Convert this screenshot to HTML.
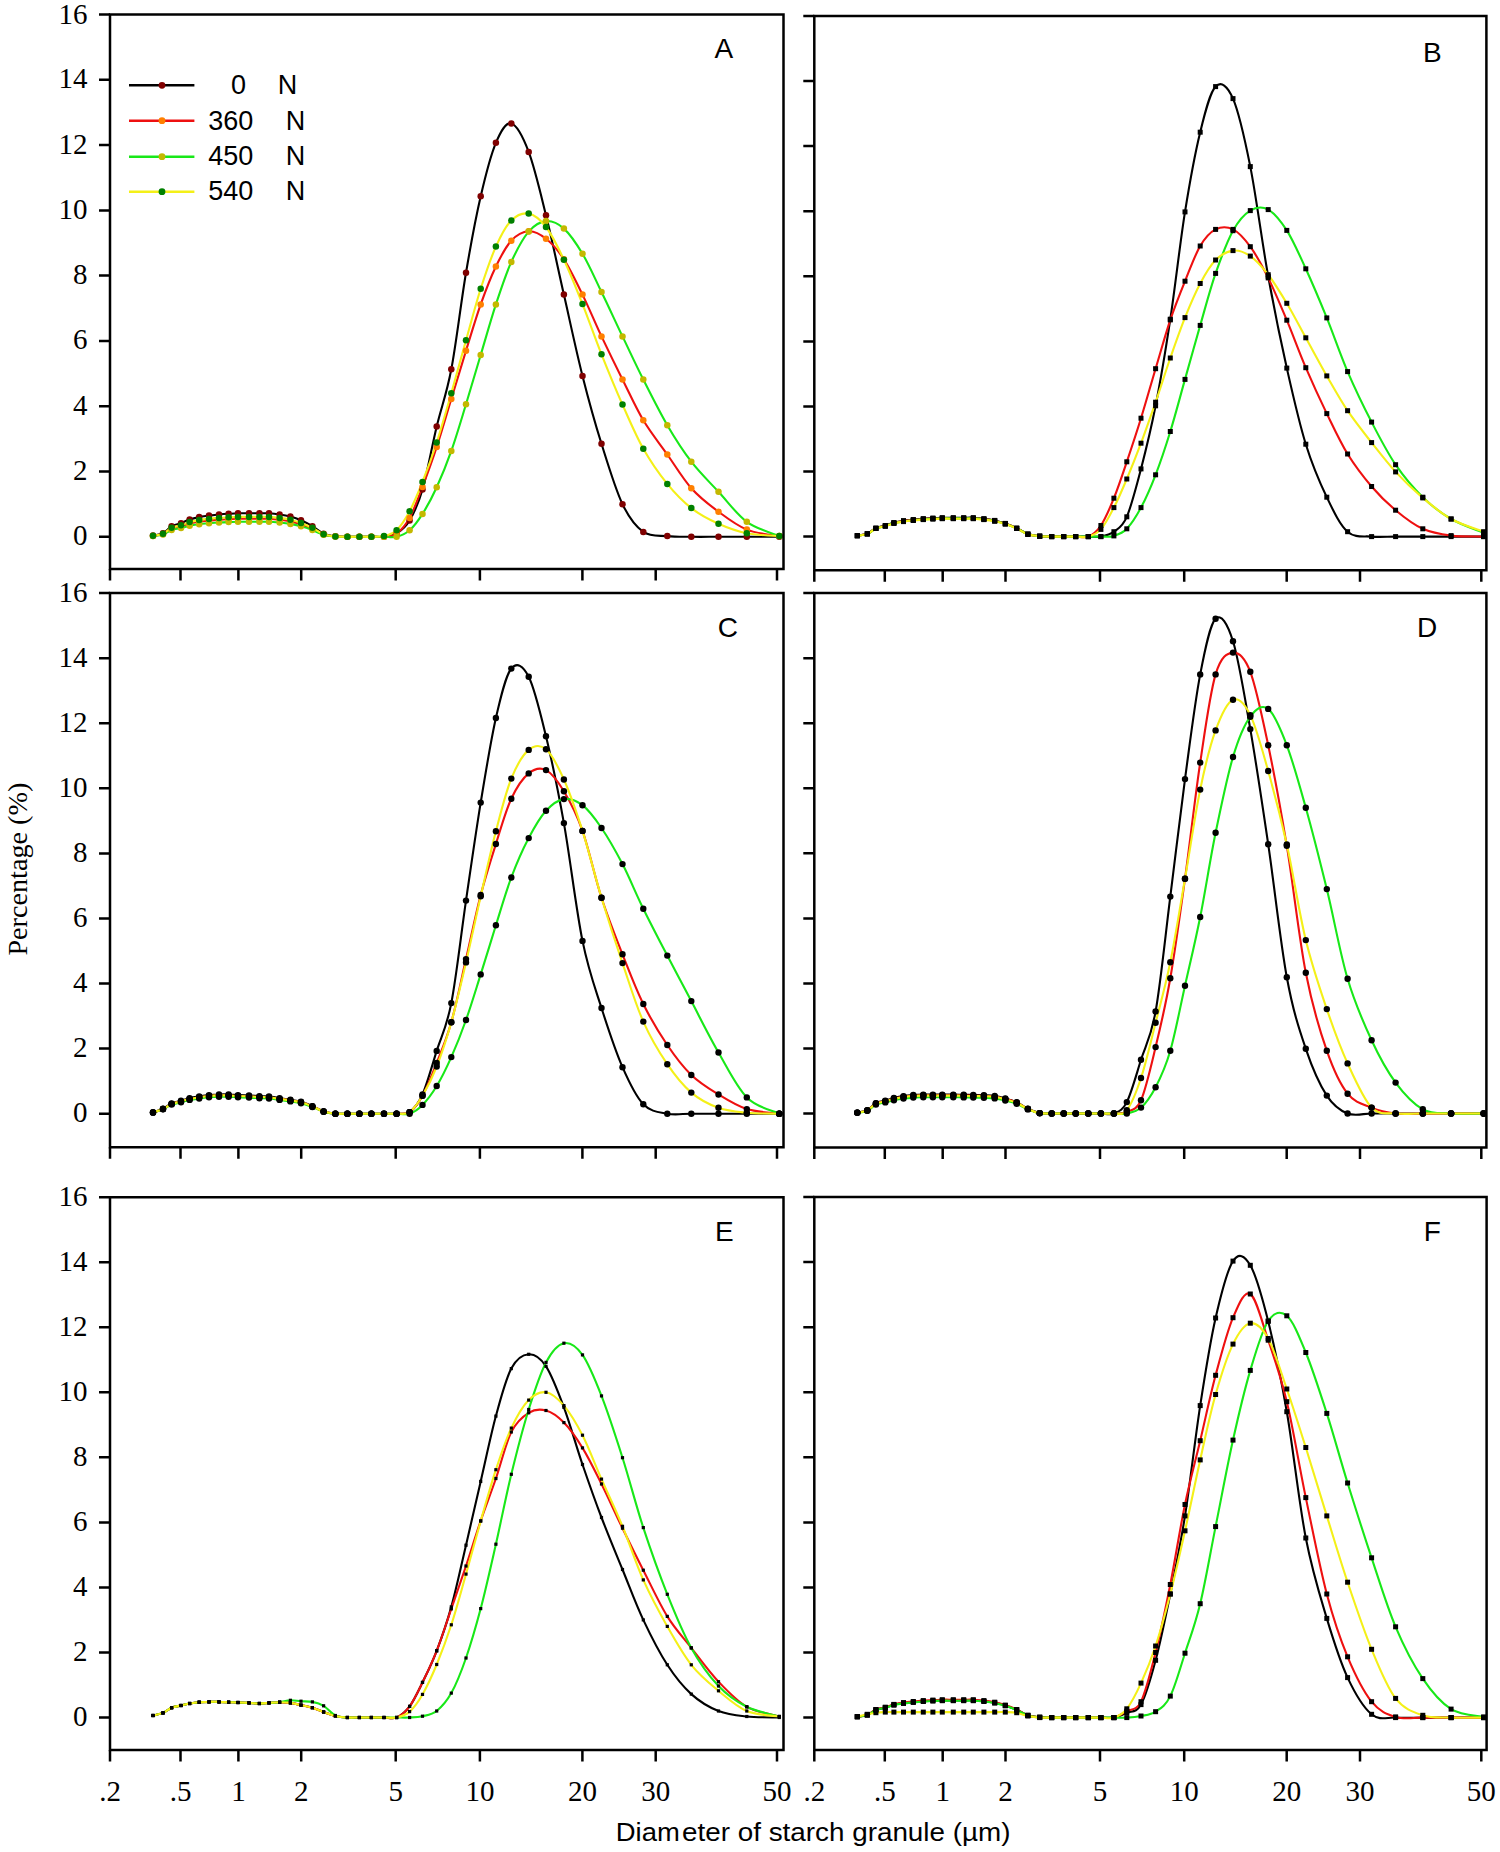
<!DOCTYPE html><html><head><meta charset="utf-8"><style>html,body{margin:0;padding:0;background:#fff;}svg{display:block}</style></head><body>
<svg width="1500" height="1852" viewBox="0 0 1500 1852">
<rect width="1500" height="1852" fill="#fff"/>
<path d="M153 535.6C154.7 535.2 159.9 534.8 163 533.3C166.1 531.7 168.6 527.9 171.6 526.2C174.6 524.5 178 524.3 181 523.2C184 522 186.6 520.4 189.6 519.4C192.6 518.4 196 517.7 199.2 517.1C202.4 516.4 205.7 516.1 209 515.6C212.3 515.2 215.7 514.8 219 514.5C222.3 514.2 225.4 514 228.6 513.8C231.8 513.6 234.6 513.4 238 513.3C241.4 513.2 245.4 513.3 249 513.3C252.6 513.3 256.1 513.3 259.4 513.3C262.7 513.3 265.6 513.1 269 513.3C272.4 513.5 276 513.9 279.6 514.5C283.2 515 286.8 515.6 290.4 516.6C294 517.6 297.3 518.7 301 520.3C304.7 522 308.6 524 312.4 526.2C316.2 528.5 319.8 532.1 323.6 533.7C327.4 535.4 331.4 535.8 335.4 536.3C339.4 536.8 343.4 536.7 347.4 536.8C351.4 536.9 355.4 536.8 359.4 536.8C363.4 536.8 367.3 536.8 371.4 536.8C375.5 536.8 379.8 537.3 384 536.8C388.2 536.3 392.3 536.3 396.6 533.5C400.9 530.8 405.3 527.8 409.6 520.5C413.9 513.1 418 505.1 422.5 489.5C427 473.8 431.9 446.5 436.7 426.5C441.5 406.4 446.4 395 451.3 369.3C456.2 343.7 461.1 301.5 466 272.7C470.9 243.9 475.7 218 480.7 196.3C485.7 174.7 490.8 154.9 495.9 142.8C501 130.7 505.8 122 511.3 123.5C516.8 125.1 522.9 136.6 528.7 151.9C534.5 167.2 540.1 191.5 546 215.3C551.9 239 557.8 267.8 563.9 294.6C570 321.4 576.2 351 582.5 375.9C588.8 400.7 594.8 422.4 601.5 443.8C608.2 465.1 615.5 489.5 622.5 504.2C629.5 518.8 635.8 526.6 643.3 531.9C650.8 537.2 659.3 535.3 667.3 536.1C675.3 537 682.8 536.7 691.3 536.8C699.8 536.9 709.2 536.8 718.5 536.8C727.8 536.8 736.7 536.8 746.8 536.8C756.9 536.8 773.9 536.8 779.3 536.8" fill="none" stroke="#000000" stroke-width="2.1" stroke-linejoin="round"/>
<path d="M153 535.9C154.7 535.6 159.9 535.3 163 534.1C166.1 532.9 168.6 530 171.6 528.7C174.6 527.4 178 527.3 181 526.4C184 525.5 186.6 524.3 189.6 523.5C192.6 522.7 196 522.2 199.2 521.7C202.4 521.2 205.7 521 209 520.6C212.3 520.3 215.7 520 219 519.7C222.3 519.5 225.4 519.4 228.6 519.2C231.8 519.1 234.6 518.9 238 518.8C241.4 518.8 245.4 518.8 249 518.8C252.6 518.8 256.1 518.8 259.4 518.8C262.7 518.8 265.6 518.7 269 518.8C272.4 519 276 519.3 279.6 519.7C283.2 520.2 286.8 520.6 290.4 521.4C294 522.1 297.3 523 301 524.2C304.7 525.5 308.6 527 312.4 528.7C316.2 530.4 319.8 533.2 323.6 534.5C327.4 535.8 331.4 536.1 335.4 536.4C339.4 536.8 343.4 536.7 347.4 536.8C351.4 536.9 355.4 536.8 359.4 536.8C363.4 536.8 367.3 536.8 371.4 536.8C375.5 536.8 379.8 537.3 384 536.8C388.2 536.3 392.3 536.7 396.6 533.5C400.9 530.4 405.3 525.6 409.6 517.9C413.9 510.1 418 498.7 422.5 486.9C427 475 431.9 461.7 436.7 447C441.5 432.4 446.4 415.1 451.3 399C456.2 383 461.1 366.5 466 350.7C470.9 335 475.7 318.4 480.7 304.4C485.7 290.3 490.8 277.1 495.9 266.5C501 255.9 505.8 246.6 511.3 240.7C516.8 234.8 522.9 231.6 528.7 231.3C534.5 230.9 540.1 234.1 546 238.8C551.9 243.4 557.8 250 563.9 259.3C570 268.6 576.2 281.7 582.5 294.6C588.8 307.4 594.8 322.2 601.5 336.4C608.2 350.5 615.5 365.5 622.5 379.5C629.5 393.4 635.8 407.7 643.3 420.3C650.8 432.8 659.3 443.2 667.3 454.5C675.3 465.9 682.8 478.6 691.3 488.2C699.8 497.7 709.2 504.8 718.5 511.7C727.8 518.6 736.7 525.5 746.8 529.6C756.9 533.7 773.9 535.1 779.3 536.1" fill="none" stroke="#ee1010" stroke-width="2.1" stroke-linejoin="round"/>
<path d="M153 536C154.7 535.8 159.9 535.5 163 534.5C166.1 533.5 168.6 531.1 171.6 530C174.6 529 178 528.8 181 528.1C184 527.4 186.6 526.3 189.6 525.7C192.6 525 196 524.6 199.2 524.2C202.4 523.8 205.7 523.6 209 523.3C212.3 523 215.7 522.7 219 522.5C222.3 522.3 225.4 522.2 228.6 522.1C231.8 522 234.6 521.8 238 521.8C241.4 521.7 245.4 521.8 249 521.8C252.6 521.8 256.1 521.8 259.4 521.8C262.7 521.8 265.6 521.7 269 521.8C272.4 521.9 276 522.2 279.6 522.5C283.2 522.9 286.8 523.3 290.4 523.9C294 524.5 297.3 525.3 301 526.3C304.7 527.3 308.6 528.6 312.4 530C316.2 531.5 319.8 533.8 323.6 534.8C327.4 535.9 331.4 536.2 335.4 536.5C339.4 536.8 343.4 536.7 347.4 536.8C351.4 536.9 355.4 536.8 359.4 536.8C363.4 536.8 367.3 536.8 371.4 536.8C375.5 536.8 379.8 536.8 384 536.8C388.2 536.8 392.3 537.9 396.6 536.8C400.9 535.7 405.3 534.1 409.6 530.3C413.9 526.5 418 521.1 422.5 513.9C427 506.8 431.9 497.7 436.7 487.2C441.5 476.7 446.4 464.8 451.3 450.9C456.2 437.1 461.1 420.3 466 404.3C470.9 388.3 475.7 371.6 480.7 355C485.7 338.3 490.8 319.9 495.9 304.4C501 288.9 505.8 274.1 511.3 261.9C516.8 249.8 522.9 238.4 528.7 231.6C534.5 224.8 540.1 221.6 546 221.1C551.9 220.6 557.8 223.2 563.9 228.6C570 234.1 576.2 243.2 582.5 253.8C588.8 264.3 594.8 278.2 601.5 292C608.2 305.7 615.5 321.8 622.5 336.4C629.5 350.9 635.8 364.7 643.3 379.5C650.8 394.3 659.3 411.4 667.3 425.2C675.3 438.9 682.8 450.6 691.3 461.7C699.8 472.8 709.2 481.7 718.5 491.8C727.8 501.8 736.7 514.4 746.8 521.8C756.9 529.2 773.9 533.8 779.3 536.1" fill="none" stroke="#18e818" stroke-width="2.1" stroke-linejoin="round"/>
<path d="M153 535.8C154.7 535.5 159.9 535.1 163 533.8C166.1 532.5 168.6 529.3 171.6 527.8C174.6 526.4 178 526.2 181 525.3C184 524.3 186.6 522.9 189.6 522.1C192.6 521.2 196 520.6 199.2 520.1C202.4 519.5 205.7 519.2 209 518.9C212.3 518.5 215.7 518.1 219 517.9C222.3 517.6 225.4 517.5 228.6 517.3C231.8 517.1 234.6 517 238 516.9C241.4 516.8 245.4 516.9 249 516.9C252.6 516.9 256.1 516.9 259.4 516.9C262.7 516.9 265.6 516.7 269 516.9C272.4 517.1 276 517.4 279.6 517.9C283.2 518.3 286.8 518.8 290.4 519.7C294 520.5 297.3 521.5 301 522.9C304.7 524.2 308.6 525.9 312.4 527.8C316.2 529.7 319.8 532.8 323.6 534.2C327.4 535.6 331.4 536 335.4 536.4C339.4 536.8 343.4 536.7 347.4 536.8C351.4 536.9 355.4 536.8 359.4 536.8C363.4 536.8 367.3 536.9 371.4 536.8C375.5 536.7 379.8 537.2 384 536.1C388.2 535.1 392.3 534.4 396.6 530.3C400.9 526.1 405.3 519.4 409.6 511.3C413.9 503.3 418 493.4 422.5 482C427 470.5 431.9 457.3 436.7 442.5C441.5 427.7 446.4 410.2 451.3 393.2C456.2 376.1 461.1 357.7 466 340.3C470.9 322.9 475.7 304.3 480.7 288.7C485.7 273.1 490.8 258 495.9 246.6C501 235.2 505.8 226 511.3 220.5C516.8 215 522.9 212.5 528.7 213.6C534.5 214.7 540.1 219.3 546 227C551.9 234.7 557.8 246.8 563.9 259.7C570 272.5 576.2 288.3 582.5 304.1C588.8 319.8 594.8 337.6 601.5 354.3C608.2 371.1 615.5 388.9 622.5 404.6C629.5 420.3 635.8 435.4 643.3 448.7C650.8 461.9 659.3 474 667.3 483.9C675.3 493.8 682.8 501.4 691.3 508.1C699.8 514.7 709.2 519.6 718.5 523.7C727.8 527.9 736.7 531.1 746.8 533.2C756.9 535.3 773.9 535.7 779.3 536.1" fill="none" stroke="#f4f018" stroke-width="2.1" stroke-linejoin="round"/>
<circle cx="153" cy="535.6" r="3.25" fill="#800000"/>
<circle cx="163" cy="533.3" r="3.25" fill="#800000"/>
<circle cx="171.6" cy="526.2" r="3.25" fill="#800000"/>
<circle cx="181" cy="523.2" r="3.25" fill="#800000"/>
<circle cx="189.6" cy="519.4" r="3.25" fill="#800000"/>
<circle cx="199.2" cy="517.1" r="3.25" fill="#800000"/>
<circle cx="209" cy="515.6" r="3.25" fill="#800000"/>
<circle cx="219" cy="514.5" r="3.25" fill="#800000"/>
<circle cx="228.6" cy="513.8" r="3.25" fill="#800000"/>
<circle cx="238" cy="513.3" r="3.25" fill="#800000"/>
<circle cx="249" cy="513.3" r="3.25" fill="#800000"/>
<circle cx="259.4" cy="513.3" r="3.25" fill="#800000"/>
<circle cx="269" cy="513.3" r="3.25" fill="#800000"/>
<circle cx="279.6" cy="514.5" r="3.25" fill="#800000"/>
<circle cx="290.4" cy="516.6" r="3.25" fill="#800000"/>
<circle cx="301" cy="520.3" r="3.25" fill="#800000"/>
<circle cx="312.4" cy="526.2" r="3.25" fill="#800000"/>
<circle cx="323.6" cy="533.7" r="3.25" fill="#800000"/>
<circle cx="335.4" cy="536.3" r="3.25" fill="#800000"/>
<circle cx="347.4" cy="536.8" r="3.25" fill="#800000"/>
<circle cx="359.4" cy="536.8" r="3.25" fill="#800000"/>
<circle cx="371.4" cy="536.8" r="3.25" fill="#800000"/>
<circle cx="384" cy="536.8" r="3.25" fill="#800000"/>
<circle cx="396.6" cy="533.5" r="3.25" fill="#800000"/>
<circle cx="409.6" cy="520.5" r="3.25" fill="#800000"/>
<circle cx="422.5" cy="489.5" r="3.25" fill="#800000"/>
<circle cx="436.7" cy="426.5" r="3.25" fill="#800000"/>
<circle cx="451.3" cy="369.3" r="3.25" fill="#800000"/>
<circle cx="466" cy="272.7" r="3.25" fill="#800000"/>
<circle cx="480.7" cy="196.3" r="3.25" fill="#800000"/>
<circle cx="495.9" cy="142.8" r="3.25" fill="#800000"/>
<circle cx="511.3" cy="123.5" r="3.25" fill="#800000"/>
<circle cx="528.7" cy="151.9" r="3.25" fill="#800000"/>
<circle cx="546" cy="215.3" r="3.25" fill="#800000"/>
<circle cx="563.9" cy="294.6" r="3.25" fill="#800000"/>
<circle cx="582.5" cy="375.9" r="3.25" fill="#800000"/>
<circle cx="601.5" cy="443.8" r="3.25" fill="#800000"/>
<circle cx="622.5" cy="504.2" r="3.25" fill="#800000"/>
<circle cx="643.3" cy="531.9" r="3.25" fill="#800000"/>
<circle cx="667.3" cy="536.1" r="3.25" fill="#800000"/>
<circle cx="691.3" cy="536.8" r="3.25" fill="#800000"/>
<circle cx="718.5" cy="536.8" r="3.25" fill="#800000"/>
<circle cx="746.8" cy="536.8" r="3.25" fill="#800000"/>
<circle cx="779.3" cy="536.8" r="3.25" fill="#800000"/>
<circle cx="153" cy="535.9" r="3.25" fill="#ff8000"/>
<circle cx="163" cy="534.1" r="3.25" fill="#ff8000"/>
<circle cx="171.6" cy="528.7" r="3.25" fill="#ff8000"/>
<circle cx="181" cy="526.4" r="3.25" fill="#ff8000"/>
<circle cx="189.6" cy="523.5" r="3.25" fill="#ff8000"/>
<circle cx="199.2" cy="521.7" r="3.25" fill="#ff8000"/>
<circle cx="209" cy="520.6" r="3.25" fill="#ff8000"/>
<circle cx="219" cy="519.7" r="3.25" fill="#ff8000"/>
<circle cx="228.6" cy="519.2" r="3.25" fill="#ff8000"/>
<circle cx="238" cy="518.8" r="3.25" fill="#ff8000"/>
<circle cx="249" cy="518.8" r="3.25" fill="#ff8000"/>
<circle cx="259.4" cy="518.8" r="3.25" fill="#ff8000"/>
<circle cx="269" cy="518.8" r="3.25" fill="#ff8000"/>
<circle cx="279.6" cy="519.7" r="3.25" fill="#ff8000"/>
<circle cx="290.4" cy="521.4" r="3.25" fill="#ff8000"/>
<circle cx="301" cy="524.2" r="3.25" fill="#ff8000"/>
<circle cx="312.4" cy="528.7" r="3.25" fill="#ff8000"/>
<circle cx="323.6" cy="534.5" r="3.25" fill="#ff8000"/>
<circle cx="335.4" cy="536.4" r="3.25" fill="#ff8000"/>
<circle cx="347.4" cy="536.8" r="3.25" fill="#ff8000"/>
<circle cx="359.4" cy="536.8" r="3.25" fill="#ff8000"/>
<circle cx="371.4" cy="536.8" r="3.25" fill="#ff8000"/>
<circle cx="384" cy="536.8" r="3.25" fill="#ff8000"/>
<circle cx="396.6" cy="533.5" r="3.25" fill="#ff8000"/>
<circle cx="409.6" cy="517.9" r="3.25" fill="#ff8000"/>
<circle cx="422.5" cy="486.9" r="3.25" fill="#ff8000"/>
<circle cx="436.7" cy="447" r="3.25" fill="#ff8000"/>
<circle cx="451.3" cy="399" r="3.25" fill="#ff8000"/>
<circle cx="466" cy="350.7" r="3.25" fill="#ff8000"/>
<circle cx="480.7" cy="304.4" r="3.25" fill="#ff8000"/>
<circle cx="495.9" cy="266.5" r="3.25" fill="#ff8000"/>
<circle cx="511.3" cy="240.7" r="3.25" fill="#ff8000"/>
<circle cx="528.7" cy="231.3" r="3.25" fill="#ff8000"/>
<circle cx="546" cy="238.8" r="3.25" fill="#ff8000"/>
<circle cx="563.9" cy="259.3" r="3.25" fill="#ff8000"/>
<circle cx="582.5" cy="294.6" r="3.25" fill="#ff8000"/>
<circle cx="601.5" cy="336.4" r="3.25" fill="#ff8000"/>
<circle cx="622.5" cy="379.5" r="3.25" fill="#ff8000"/>
<circle cx="643.3" cy="420.3" r="3.25" fill="#ff8000"/>
<circle cx="667.3" cy="454.5" r="3.25" fill="#ff8000"/>
<circle cx="691.3" cy="488.2" r="3.25" fill="#ff8000"/>
<circle cx="718.5" cy="511.7" r="3.25" fill="#ff8000"/>
<circle cx="746.8" cy="529.6" r="3.25" fill="#ff8000"/>
<circle cx="779.3" cy="536.1" r="3.25" fill="#ff8000"/>
<circle cx="153" cy="536" r="3.25" fill="#c4b800"/>
<circle cx="163" cy="534.5" r="3.25" fill="#c4b800"/>
<circle cx="171.6" cy="530" r="3.25" fill="#c4b800"/>
<circle cx="181" cy="528.1" r="3.25" fill="#c4b800"/>
<circle cx="189.6" cy="525.7" r="3.25" fill="#c4b800"/>
<circle cx="199.2" cy="524.2" r="3.25" fill="#c4b800"/>
<circle cx="209" cy="523.3" r="3.25" fill="#c4b800"/>
<circle cx="219" cy="522.5" r="3.25" fill="#c4b800"/>
<circle cx="228.6" cy="522.1" r="3.25" fill="#c4b800"/>
<circle cx="238" cy="521.8" r="3.25" fill="#c4b800"/>
<circle cx="249" cy="521.8" r="3.25" fill="#c4b800"/>
<circle cx="259.4" cy="521.8" r="3.25" fill="#c4b800"/>
<circle cx="269" cy="521.8" r="3.25" fill="#c4b800"/>
<circle cx="279.6" cy="522.5" r="3.25" fill="#c4b800"/>
<circle cx="290.4" cy="523.9" r="3.25" fill="#c4b800"/>
<circle cx="301" cy="526.3" r="3.25" fill="#c4b800"/>
<circle cx="312.4" cy="530" r="3.25" fill="#c4b800"/>
<circle cx="323.6" cy="534.8" r="3.25" fill="#c4b800"/>
<circle cx="335.4" cy="536.5" r="3.25" fill="#c4b800"/>
<circle cx="347.4" cy="536.8" r="3.25" fill="#c4b800"/>
<circle cx="359.4" cy="536.8" r="3.25" fill="#c4b800"/>
<circle cx="371.4" cy="536.8" r="3.25" fill="#c4b800"/>
<circle cx="384" cy="536.8" r="3.25" fill="#c4b800"/>
<circle cx="396.6" cy="536.8" r="3.25" fill="#c4b800"/>
<circle cx="409.6" cy="530.3" r="3.25" fill="#c4b800"/>
<circle cx="422.5" cy="513.9" r="3.25" fill="#c4b800"/>
<circle cx="436.7" cy="487.2" r="3.25" fill="#c4b800"/>
<circle cx="451.3" cy="450.9" r="3.25" fill="#c4b800"/>
<circle cx="466" cy="404.3" r="3.25" fill="#c4b800"/>
<circle cx="480.7" cy="355" r="3.25" fill="#c4b800"/>
<circle cx="495.9" cy="304.4" r="3.25" fill="#c4b800"/>
<circle cx="511.3" cy="261.9" r="3.25" fill="#c4b800"/>
<circle cx="528.7" cy="231.6" r="3.25" fill="#c4b800"/>
<circle cx="546" cy="221.1" r="3.25" fill="#c4b800"/>
<circle cx="563.9" cy="228.6" r="3.25" fill="#c4b800"/>
<circle cx="582.5" cy="253.8" r="3.25" fill="#c4b800"/>
<circle cx="601.5" cy="292" r="3.25" fill="#c4b800"/>
<circle cx="622.5" cy="336.4" r="3.25" fill="#c4b800"/>
<circle cx="643.3" cy="379.5" r="3.25" fill="#c4b800"/>
<circle cx="667.3" cy="425.2" r="3.25" fill="#c4b800"/>
<circle cx="691.3" cy="461.7" r="3.25" fill="#c4b800"/>
<circle cx="718.5" cy="491.8" r="3.25" fill="#c4b800"/>
<circle cx="746.8" cy="521.8" r="3.25" fill="#c4b800"/>
<circle cx="779.3" cy="536.1" r="3.25" fill="#c4b800"/>
<circle cx="153" cy="535.8" r="3.25" fill="#008000"/>
<circle cx="163" cy="533.8" r="3.25" fill="#008000"/>
<circle cx="171.6" cy="527.8" r="3.25" fill="#008000"/>
<circle cx="181" cy="525.3" r="3.25" fill="#008000"/>
<circle cx="189.6" cy="522.1" r="3.25" fill="#008000"/>
<circle cx="199.2" cy="520.1" r="3.25" fill="#008000"/>
<circle cx="209" cy="518.9" r="3.25" fill="#008000"/>
<circle cx="219" cy="517.9" r="3.25" fill="#008000"/>
<circle cx="228.6" cy="517.3" r="3.25" fill="#008000"/>
<circle cx="238" cy="516.9" r="3.25" fill="#008000"/>
<circle cx="249" cy="516.9" r="3.25" fill="#008000"/>
<circle cx="259.4" cy="516.9" r="3.25" fill="#008000"/>
<circle cx="269" cy="516.9" r="3.25" fill="#008000"/>
<circle cx="279.6" cy="517.9" r="3.25" fill="#008000"/>
<circle cx="290.4" cy="519.7" r="3.25" fill="#008000"/>
<circle cx="301" cy="522.9" r="3.25" fill="#008000"/>
<circle cx="312.4" cy="527.8" r="3.25" fill="#008000"/>
<circle cx="323.6" cy="534.2" r="3.25" fill="#008000"/>
<circle cx="335.4" cy="536.4" r="3.25" fill="#008000"/>
<circle cx="347.4" cy="536.8" r="3.25" fill="#008000"/>
<circle cx="359.4" cy="536.8" r="3.25" fill="#008000"/>
<circle cx="371.4" cy="536.8" r="3.25" fill="#008000"/>
<circle cx="384" cy="536.1" r="3.25" fill="#008000"/>
<circle cx="396.6" cy="530.3" r="3.25" fill="#008000"/>
<circle cx="409.6" cy="511.3" r="3.25" fill="#008000"/>
<circle cx="422.5" cy="482" r="3.25" fill="#008000"/>
<circle cx="436.7" cy="442.5" r="3.25" fill="#008000"/>
<circle cx="451.3" cy="393.2" r="3.25" fill="#008000"/>
<circle cx="466" cy="340.3" r="3.25" fill="#008000"/>
<circle cx="480.7" cy="288.7" r="3.25" fill="#008000"/>
<circle cx="495.9" cy="246.6" r="3.25" fill="#008000"/>
<circle cx="511.3" cy="220.5" r="3.25" fill="#008000"/>
<circle cx="528.7" cy="213.6" r="3.25" fill="#008000"/>
<circle cx="546" cy="227" r="3.25" fill="#008000"/>
<circle cx="563.9" cy="259.7" r="3.25" fill="#008000"/>
<circle cx="582.5" cy="304.1" r="3.25" fill="#008000"/>
<circle cx="601.5" cy="354.3" r="3.25" fill="#008000"/>
<circle cx="622.5" cy="404.6" r="3.25" fill="#008000"/>
<circle cx="643.3" cy="448.7" r="3.25" fill="#008000"/>
<circle cx="667.3" cy="483.9" r="3.25" fill="#008000"/>
<circle cx="691.3" cy="508.1" r="3.25" fill="#008000"/>
<circle cx="718.5" cy="523.7" r="3.25" fill="#008000"/>
<circle cx="746.8" cy="533.2" r="3.25" fill="#008000"/>
<circle cx="779.3" cy="536.1" r="3.25" fill="#008000"/>
<path d="M110 14.5H783.5V569H110Z" fill="none" stroke="#000" stroke-width="2.5"/>
<path d="M99 536.8H110M99 471.5H110M99 406.2H110M99 340.9H110M99 275.6H110M99 210.4H110M99 145.1H110M99 79.8H110M99 14.5H110M110 569V580.5M180.5 569V580.5M238.4 569V580.5M301.2 569V580.5M395.7 569V580.5M479.9 569V580.5M582.4 569V580.5M655.7 569V580.5M777 569V580.5" fill="none" stroke="#000" stroke-width="2.5"/>
<text x="87.4" y="545.3" font-family="'Liberation Serif', serif" font-size="29" text-anchor="end" fill="#000">0</text>
<text x="87.4" y="480" font-family="'Liberation Serif', serif" font-size="29" text-anchor="end" fill="#000">2</text>
<text x="87.4" y="414.7" font-family="'Liberation Serif', serif" font-size="29" text-anchor="end" fill="#000">4</text>
<text x="87.4" y="349.4" font-family="'Liberation Serif', serif" font-size="29" text-anchor="end" fill="#000">6</text>
<text x="87.4" y="284.1" font-family="'Liberation Serif', serif" font-size="29" text-anchor="end" fill="#000">8</text>
<text x="87.4" y="218.9" font-family="'Liberation Serif', serif" font-size="29" text-anchor="end" fill="#000">10</text>
<text x="87.4" y="153.6" font-family="'Liberation Serif', serif" font-size="29" text-anchor="end" fill="#000">12</text>
<text x="87.4" y="88.3" font-family="'Liberation Serif', serif" font-size="29" text-anchor="end" fill="#000">14</text>
<text x="87.4" y="24.3" font-family="'Liberation Serif', serif" font-size="29" text-anchor="end" fill="#000">16</text>
<text x="714.5" y="58.4" font-family="'Liberation Sans', sans-serif" font-size="28" fill="#000">A</text>
<path d="M857.3 535.7C859 535.3 864.2 535 867.3 533.8C870.4 532.5 872.9 529.5 875.9 528.1C878.9 526.8 882.3 526.6 885.3 525.7C888.3 524.7 890.9 523.5 893.9 522.6C896.9 521.8 900.3 521.3 903.5 520.7C906.7 520.2 910 520 913.3 519.6C916.6 519.3 920 518.9 923.3 518.7C926.6 518.4 929.7 518.3 932.9 518.1C936.1 517.9 938.9 517.8 942.3 517.7C945.7 517.7 949.7 517.7 953.3 517.7C956.9 517.7 960.4 517.7 963.7 517.7C967 517.7 969.9 517.6 973.3 517.7C976.7 517.9 980.3 518.2 983.9 518.7C987.5 519.1 991.1 519.6 994.7 520.4C998.3 521.2 1001.6 522.1 1005.3 523.4C1009 524.7 1012.9 526.3 1016.7 528.1C1020.5 529.9 1024.1 532.8 1027.9 534.1C1031.7 535.5 1035.7 535.8 1039.7 536.2C1043.7 536.6 1047.7 536.5 1051.7 536.6C1055.7 536.7 1059.7 536.6 1063.7 536.6C1067.7 536.6 1071.6 536.6 1075.7 536.6C1079.8 536.6 1084.1 536.6 1088.3 536.6C1092.5 536.6 1096.6 537.4 1100.9 536.6C1105.2 535.8 1109.6 535 1113.9 531.7C1118.2 528.4 1122.3 527.2 1126.8 516.8C1131.3 506.3 1136.2 487.4 1141 468.9C1145.8 450.4 1150.7 430.7 1155.6 405.8C1160.5 380.9 1165.4 351.6 1170.3 319.2C1175.2 286.9 1180 243.1 1185 211.9C1190 180.7 1195.1 153 1200.2 132.2C1205.3 111.3 1210.1 92.2 1215.6 86.6C1221.1 81 1227.2 85.3 1233 98.6C1238.8 112 1244.4 137 1250.3 166.6C1256.2 196.3 1262.1 242.7 1268.2 276.3C1274.3 309.9 1280.5 340.1 1286.8 368.1C1293.1 396 1299.1 422.7 1305.8 444.2C1312.5 465.7 1319.8 482.6 1326.8 497.2C1333.8 511.8 1340.1 525.2 1347.6 531.7C1355.1 538.3 1363.6 535.8 1371.6 536.6C1379.6 537.4 1387.1 536.6 1395.6 536.6C1404.1 536.6 1413.5 536.6 1422.8 536.6C1432 536.6 1441 536.6 1451.1 536.6C1461.2 536.6 1478.2 536.6 1483.6 536.6" fill="none" stroke="#000000" stroke-width="2.1" stroke-linejoin="round"/>
<path d="M857.3 535.7C859 535.4 864.2 535.1 867.3 533.8C870.4 532.6 872.9 529.6 875.9 528.3C878.9 526.9 882.3 526.7 885.3 525.8C888.3 524.9 890.9 523.7 893.9 522.9C896.9 522.1 900.3 521.5 903.5 521C906.7 520.5 910 520.2 913.3 519.9C916.6 519.6 920 519.2 923.3 519C926.6 518.7 929.7 518.6 932.9 518.4C936.1 518.3 938.9 518.1 942.3 518.1C945.7 518 949.7 518.1 953.3 518.1C956.9 518.1 960.4 518.1 963.7 518.1C967 518.1 969.9 517.9 973.3 518.1C976.7 518.2 980.3 518.5 983.9 519C987.5 519.4 991.1 519.9 994.7 520.7C998.3 521.4 1001.6 522.4 1005.3 523.6C1009 524.9 1012.9 526.5 1016.7 528.3C1020.5 530 1024.1 532.9 1027.9 534.2C1031.7 535.5 1035.7 535.8 1039.7 536.2C1043.7 536.6 1047.7 536.5 1051.7 536.6C1055.7 536.7 1059.7 536.6 1063.7 536.6C1067.7 536.6 1071.6 536.6 1075.7 536.6C1079.8 536.6 1084.1 538.4 1088.3 536.6C1092.5 534.8 1096.6 531.9 1100.9 525.5C1105.2 519.1 1109.6 508.8 1113.9 498.2C1118.2 487.6 1122.3 475.1 1126.8 461.8C1131.3 448.4 1136.2 433.7 1141 418.2C1145.8 402.7 1150.7 385.1 1155.6 368.7C1160.5 352.3 1165.4 334.5 1170.3 319.9C1175.2 305.3 1180 293.5 1185 281.2C1190 268.9 1195.1 254.7 1200.2 246C1205.3 237.4 1210.1 232.2 1215.6 229.4C1221.1 226.7 1227.2 226.6 1233 229.4C1238.8 232.3 1244.4 238.6 1250.3 246.7C1256.2 254.8 1262.1 265.7 1268.2 277.9C1274.3 290.2 1280.5 305.3 1286.8 320.2C1293.1 335.2 1299.1 352.2 1305.8 367.7C1312.5 383.3 1319.8 399.2 1326.8 413.6C1333.8 428 1340.1 441.8 1347.6 454C1355.1 466.1 1363.6 477.1 1371.6 486.5C1379.6 495.9 1387.1 503.2 1395.6 510.2C1404.1 517.3 1413.5 524.6 1422.8 528.8C1432 533 1441 534.3 1451.1 535.6C1461.2 536.9 1478.2 536.4 1483.6 536.6" fill="none" stroke="#ee1010" stroke-width="2.1" stroke-linejoin="round"/>
<path d="M857.3 535.7C859 535.4 864.2 535.1 867.3 533.9C870.4 532.7 872.9 529.7 875.9 528.4C878.9 527.1 882.3 526.9 885.3 526C888.3 525.2 890.9 523.9 893.9 523.1C896.9 522.3 900.3 521.8 903.5 521.3C906.7 520.8 910 520.5 913.3 520.2C916.6 519.9 920 519.5 923.3 519.3C926.6 519 929.7 518.9 932.9 518.7C936.1 518.6 938.9 518.4 942.3 518.4C945.7 518.3 949.7 518.4 953.3 518.4C956.9 518.4 960.4 518.4 963.7 518.4C967 518.4 969.9 518.2 973.3 518.4C976.7 518.5 980.3 518.9 983.9 519.3C987.5 519.7 991.1 520.2 994.7 520.9C998.3 521.7 1001.6 522.6 1005.3 523.8C1009 525.1 1012.9 526.7 1016.7 528.4C1020.5 530.1 1024.1 532.9 1027.9 534.2C1031.7 535.5 1035.7 535.8 1039.7 536.2C1043.7 536.6 1047.7 536.5 1051.7 536.6C1055.7 536.7 1059.7 536.6 1063.7 536.6C1067.7 536.6 1071.6 536.6 1075.7 536.6C1079.8 536.6 1084.1 536.6 1088.3 536.6C1092.5 536.6 1096.6 536.7 1100.9 536.6C1105.2 536.5 1109.6 537.3 1113.9 535.9C1118.2 534.6 1122.3 533.5 1126.8 528.8C1131.3 524.1 1136.2 516.6 1141 507.6C1145.8 498.6 1150.7 487.5 1155.6 474.8C1160.5 462.1 1165.4 447.4 1170.3 431.5C1175.2 415.6 1180 397.1 1185 379.4C1190 361.8 1195.1 343.1 1200.2 325.4C1205.3 307.8 1210.1 289.2 1215.6 273.4C1221.1 257.6 1227.2 241.2 1233 230.7C1238.8 220.3 1244.4 214.1 1250.3 210.6C1256.2 207 1262.1 206.3 1268.2 209.6C1274.3 212.9 1280.5 220.6 1286.8 230.4C1293.1 240.3 1299.1 254.2 1305.8 268.8C1312.5 283.4 1319.8 300.8 1326.8 317.9C1333.8 335.1 1340.1 354.3 1347.6 371.6C1355.1 389 1363.6 406.6 1371.6 422.1C1379.6 437.6 1387.1 452.2 1395.6 464.7C1404.1 477.2 1413.5 488.2 1422.8 497.2C1432 506.3 1441 513.1 1451.1 519C1461.2 524.9 1478.2 530.4 1483.6 532.7" fill="none" stroke="#18e818" stroke-width="2.1" stroke-linejoin="round"/>
<path d="M857.3 535.7C859 535.4 864.2 535.1 867.3 533.9C870.4 532.7 872.9 529.8 875.9 528.5C878.9 527.3 882.3 527.1 885.3 526.2C888.3 525.4 890.9 524.1 893.9 523.4C896.9 522.6 900.3 522 903.5 521.6C906.7 521.1 910 520.8 913.3 520.5C916.6 520.2 920 519.8 923.3 519.6C926.6 519.4 929.7 519.2 932.9 519.1C936.1 518.9 938.9 518.8 942.3 518.7C945.7 518.6 949.7 518.7 953.3 518.7C956.9 518.7 960.4 518.7 963.7 518.7C967 518.7 969.9 518.6 973.3 518.7C976.7 518.9 980.3 519.2 983.9 519.6C987.5 520 991.1 520.5 994.7 521.2C998.3 522 1001.6 522.9 1005.3 524.1C1009 525.3 1012.9 526.8 1016.7 528.5C1020.5 530.2 1024.1 533 1027.9 534.3C1031.7 535.6 1035.7 535.9 1039.7 536.2C1043.7 536.6 1047.7 536.5 1051.7 536.6C1055.7 536.7 1059.7 536.6 1063.7 536.6C1067.7 536.6 1071.6 536.6 1075.7 536.6C1079.8 536.6 1084.1 537.8 1088.3 536.6C1092.5 535.4 1096.6 534.3 1100.9 529.4C1105.2 524.6 1109.6 516 1113.9 507.6C1118.2 499.2 1122.3 489.7 1126.8 479C1131.3 468.3 1136.2 456 1141 443.2C1145.8 430.4 1150.7 416.4 1155.6 402.2C1160.5 388 1165.4 372.1 1170.3 358C1175.2 343.9 1180 330 1185 317.6C1190 305.2 1195.1 293.1 1200.2 283.5C1205.3 273.9 1210.1 265.5 1215.6 260C1221.1 254.6 1227.2 251.2 1233 250.6C1238.8 249.9 1244.4 252.1 1250.3 256.1C1256.2 260.1 1262.1 266.8 1268.2 274.7C1274.3 282.5 1280.5 292.8 1286.8 303.3C1293.1 313.8 1299.1 325.7 1305.8 337.8C1312.5 349.9 1319.8 363.7 1326.8 375.9C1333.8 388 1340.1 399.6 1347.6 410.7C1355.1 421.8 1363.6 432.4 1371.6 442.6C1379.6 452.8 1387.1 462.6 1395.6 471.9C1404.1 481.1 1413.5 490 1422.8 497.9C1432 505.7 1441 513.4 1451.1 519C1461.2 524.7 1478.2 529.6 1483.6 531.7" fill="none" stroke="#f4f018" stroke-width="2.1" stroke-linejoin="round"/>
<rect x="854.8" y="533.2" width="5" height="5" fill="#000"/>
<rect x="864.8" y="531.3" width="5" height="5" fill="#000"/>
<rect x="873.4" y="525.6" width="5" height="5" fill="#000"/>
<rect x="882.8" y="523.2" width="5" height="5" fill="#000"/>
<rect x="891.4" y="520.1" width="5" height="5" fill="#000"/>
<rect x="901" y="518.2" width="5" height="5" fill="#000"/>
<rect x="910.8" y="517.1" width="5" height="5" fill="#000"/>
<rect x="920.8" y="516.2" width="5" height="5" fill="#000"/>
<rect x="930.4" y="515.6" width="5" height="5" fill="#000"/>
<rect x="939.8" y="515.2" width="5" height="5" fill="#000"/>
<rect x="950.8" y="515.2" width="5" height="5" fill="#000"/>
<rect x="961.2" y="515.2" width="5" height="5" fill="#000"/>
<rect x="970.8" y="515.2" width="5" height="5" fill="#000"/>
<rect x="981.4" y="516.2" width="5" height="5" fill="#000"/>
<rect x="992.2" y="517.9" width="5" height="5" fill="#000"/>
<rect x="1002.8" y="520.9" width="5" height="5" fill="#000"/>
<rect x="1014.2" y="525.6" width="5" height="5" fill="#000"/>
<rect x="1025.4" y="531.6" width="5" height="5" fill="#000"/>
<rect x="1037.2" y="533.7" width="5" height="5" fill="#000"/>
<rect x="1049.2" y="534.1" width="5" height="5" fill="#000"/>
<rect x="1061.2" y="534.1" width="5" height="5" fill="#000"/>
<rect x="1073.2" y="534.1" width="5" height="5" fill="#000"/>
<rect x="1085.8" y="534.1" width="5" height="5" fill="#000"/>
<rect x="1098.4" y="534.1" width="5" height="5" fill="#000"/>
<rect x="1111.4" y="529.2" width="5" height="5" fill="#000"/>
<rect x="1124.3" y="514.3" width="5" height="5" fill="#000"/>
<rect x="1138.5" y="466.4" width="5" height="5" fill="#000"/>
<rect x="1153.1" y="403.3" width="5" height="5" fill="#000"/>
<rect x="1167.8" y="316.7" width="5" height="5" fill="#000"/>
<rect x="1182.5" y="209.4" width="5" height="5" fill="#000"/>
<rect x="1197.7" y="129.7" width="5" height="5" fill="#000"/>
<rect x="1213.1" y="84.1" width="5" height="5" fill="#000"/>
<rect x="1230.5" y="96.1" width="5" height="5" fill="#000"/>
<rect x="1247.8" y="164.1" width="5" height="5" fill="#000"/>
<rect x="1265.7" y="273.8" width="5" height="5" fill="#000"/>
<rect x="1284.3" y="365.6" width="5" height="5" fill="#000"/>
<rect x="1303.3" y="441.7" width="5" height="5" fill="#000"/>
<rect x="1324.3" y="494.7" width="5" height="5" fill="#000"/>
<rect x="1345.1" y="529.2" width="5" height="5" fill="#000"/>
<rect x="1369.1" y="534.1" width="5" height="5" fill="#000"/>
<rect x="1393.1" y="534.1" width="5" height="5" fill="#000"/>
<rect x="1420.3" y="534.1" width="5" height="5" fill="#000"/>
<rect x="1448.6" y="534.1" width="5" height="5" fill="#000"/>
<rect x="1481.1" y="534.1" width="5" height="5" fill="#000"/>
<rect x="854.8" y="533.2" width="5" height="5" fill="#000"/>
<rect x="864.8" y="531.3" width="5" height="5" fill="#000"/>
<rect x="873.4" y="525.8" width="5" height="5" fill="#000"/>
<rect x="882.8" y="523.3" width="5" height="5" fill="#000"/>
<rect x="891.4" y="520.4" width="5" height="5" fill="#000"/>
<rect x="901" y="518.5" width="5" height="5" fill="#000"/>
<rect x="910.8" y="517.4" width="5" height="5" fill="#000"/>
<rect x="920.8" y="516.5" width="5" height="5" fill="#000"/>
<rect x="930.4" y="515.9" width="5" height="5" fill="#000"/>
<rect x="939.8" y="515.6" width="5" height="5" fill="#000"/>
<rect x="950.8" y="515.6" width="5" height="5" fill="#000"/>
<rect x="961.2" y="515.6" width="5" height="5" fill="#000"/>
<rect x="970.8" y="515.6" width="5" height="5" fill="#000"/>
<rect x="981.4" y="516.5" width="5" height="5" fill="#000"/>
<rect x="992.2" y="518.2" width="5" height="5" fill="#000"/>
<rect x="1002.8" y="521.1" width="5" height="5" fill="#000"/>
<rect x="1014.2" y="525.8" width="5" height="5" fill="#000"/>
<rect x="1025.4" y="531.7" width="5" height="5" fill="#000"/>
<rect x="1037.2" y="533.7" width="5" height="5" fill="#000"/>
<rect x="1049.2" y="534.1" width="5" height="5" fill="#000"/>
<rect x="1061.2" y="534.1" width="5" height="5" fill="#000"/>
<rect x="1073.2" y="534.1" width="5" height="5" fill="#000"/>
<rect x="1085.8" y="534.1" width="5" height="5" fill="#000"/>
<rect x="1098.4" y="523" width="5" height="5" fill="#000"/>
<rect x="1111.4" y="495.7" width="5" height="5" fill="#000"/>
<rect x="1124.3" y="459.3" width="5" height="5" fill="#000"/>
<rect x="1138.5" y="415.7" width="5" height="5" fill="#000"/>
<rect x="1153.1" y="366.2" width="5" height="5" fill="#000"/>
<rect x="1167.8" y="317.4" width="5" height="5" fill="#000"/>
<rect x="1182.5" y="278.7" width="5" height="5" fill="#000"/>
<rect x="1197.7" y="243.5" width="5" height="5" fill="#000"/>
<rect x="1213.1" y="226.9" width="5" height="5" fill="#000"/>
<rect x="1230.5" y="226.9" width="5" height="5" fill="#000"/>
<rect x="1247.8" y="244.2" width="5" height="5" fill="#000"/>
<rect x="1265.7" y="275.4" width="5" height="5" fill="#000"/>
<rect x="1284.3" y="317.7" width="5" height="5" fill="#000"/>
<rect x="1303.3" y="365.2" width="5" height="5" fill="#000"/>
<rect x="1324.3" y="411.1" width="5" height="5" fill="#000"/>
<rect x="1345.1" y="451.5" width="5" height="5" fill="#000"/>
<rect x="1369.1" y="484" width="5" height="5" fill="#000"/>
<rect x="1393.1" y="507.7" width="5" height="5" fill="#000"/>
<rect x="1420.3" y="526.3" width="5" height="5" fill="#000"/>
<rect x="1448.6" y="533.1" width="5" height="5" fill="#000"/>
<rect x="1481.1" y="534.1" width="5" height="5" fill="#000"/>
<rect x="854.8" y="533.2" width="5" height="5" fill="#000"/>
<rect x="864.8" y="531.4" width="5" height="5" fill="#000"/>
<rect x="873.4" y="525.9" width="5" height="5" fill="#000"/>
<rect x="882.8" y="523.5" width="5" height="5" fill="#000"/>
<rect x="891.4" y="520.6" width="5" height="5" fill="#000"/>
<rect x="901" y="518.8" width="5" height="5" fill="#000"/>
<rect x="910.8" y="517.7" width="5" height="5" fill="#000"/>
<rect x="920.8" y="516.8" width="5" height="5" fill="#000"/>
<rect x="930.4" y="516.2" width="5" height="5" fill="#000"/>
<rect x="939.8" y="515.9" width="5" height="5" fill="#000"/>
<rect x="950.8" y="515.9" width="5" height="5" fill="#000"/>
<rect x="961.2" y="515.9" width="5" height="5" fill="#000"/>
<rect x="970.8" y="515.9" width="5" height="5" fill="#000"/>
<rect x="981.4" y="516.8" width="5" height="5" fill="#000"/>
<rect x="992.2" y="518.4" width="5" height="5" fill="#000"/>
<rect x="1002.8" y="521.3" width="5" height="5" fill="#000"/>
<rect x="1014.2" y="525.9" width="5" height="5" fill="#000"/>
<rect x="1025.4" y="531.7" width="5" height="5" fill="#000"/>
<rect x="1037.2" y="533.7" width="5" height="5" fill="#000"/>
<rect x="1049.2" y="534.1" width="5" height="5" fill="#000"/>
<rect x="1061.2" y="534.1" width="5" height="5" fill="#000"/>
<rect x="1073.2" y="534.1" width="5" height="5" fill="#000"/>
<rect x="1085.8" y="534.1" width="5" height="5" fill="#000"/>
<rect x="1098.4" y="534.1" width="5" height="5" fill="#000"/>
<rect x="1111.4" y="533.4" width="5" height="5" fill="#000"/>
<rect x="1124.3" y="526.3" width="5" height="5" fill="#000"/>
<rect x="1138.5" y="505.1" width="5" height="5" fill="#000"/>
<rect x="1153.1" y="472.3" width="5" height="5" fill="#000"/>
<rect x="1167.8" y="429" width="5" height="5" fill="#000"/>
<rect x="1182.5" y="376.9" width="5" height="5" fill="#000"/>
<rect x="1197.7" y="322.9" width="5" height="5" fill="#000"/>
<rect x="1213.1" y="270.9" width="5" height="5" fill="#000"/>
<rect x="1230.5" y="228.2" width="5" height="5" fill="#000"/>
<rect x="1247.8" y="208.1" width="5" height="5" fill="#000"/>
<rect x="1265.7" y="207.1" width="5" height="5" fill="#000"/>
<rect x="1284.3" y="227.9" width="5" height="5" fill="#000"/>
<rect x="1303.3" y="266.3" width="5" height="5" fill="#000"/>
<rect x="1324.3" y="315.4" width="5" height="5" fill="#000"/>
<rect x="1345.1" y="369.1" width="5" height="5" fill="#000"/>
<rect x="1369.1" y="419.6" width="5" height="5" fill="#000"/>
<rect x="1393.1" y="462.2" width="5" height="5" fill="#000"/>
<rect x="1420.3" y="494.7" width="5" height="5" fill="#000"/>
<rect x="1448.6" y="516.5" width="5" height="5" fill="#000"/>
<rect x="1481.1" y="530.2" width="5" height="5" fill="#000"/>
<rect x="854.8" y="533.2" width="5" height="5" fill="#000"/>
<rect x="864.8" y="531.4" width="5" height="5" fill="#000"/>
<rect x="873.4" y="526" width="5" height="5" fill="#000"/>
<rect x="882.8" y="523.7" width="5" height="5" fill="#000"/>
<rect x="891.4" y="520.9" width="5" height="5" fill="#000"/>
<rect x="901" y="519.1" width="5" height="5" fill="#000"/>
<rect x="910.8" y="518" width="5" height="5" fill="#000"/>
<rect x="920.8" y="517.1" width="5" height="5" fill="#000"/>
<rect x="930.4" y="516.6" width="5" height="5" fill="#000"/>
<rect x="939.8" y="516.2" width="5" height="5" fill="#000"/>
<rect x="950.8" y="516.2" width="5" height="5" fill="#000"/>
<rect x="961.2" y="516.2" width="5" height="5" fill="#000"/>
<rect x="970.8" y="516.2" width="5" height="5" fill="#000"/>
<rect x="981.4" y="517.1" width="5" height="5" fill="#000"/>
<rect x="992.2" y="518.7" width="5" height="5" fill="#000"/>
<rect x="1002.8" y="521.6" width="5" height="5" fill="#000"/>
<rect x="1014.2" y="526" width="5" height="5" fill="#000"/>
<rect x="1025.4" y="531.8" width="5" height="5" fill="#000"/>
<rect x="1037.2" y="533.7" width="5" height="5" fill="#000"/>
<rect x="1049.2" y="534.1" width="5" height="5" fill="#000"/>
<rect x="1061.2" y="534.1" width="5" height="5" fill="#000"/>
<rect x="1073.2" y="534.1" width="5" height="5" fill="#000"/>
<rect x="1085.8" y="534.1" width="5" height="5" fill="#000"/>
<rect x="1098.4" y="526.9" width="5" height="5" fill="#000"/>
<rect x="1111.4" y="505.1" width="5" height="5" fill="#000"/>
<rect x="1124.3" y="476.5" width="5" height="5" fill="#000"/>
<rect x="1138.5" y="440.7" width="5" height="5" fill="#000"/>
<rect x="1153.1" y="399.7" width="5" height="5" fill="#000"/>
<rect x="1167.8" y="355.5" width="5" height="5" fill="#000"/>
<rect x="1182.5" y="315.1" width="5" height="5" fill="#000"/>
<rect x="1197.7" y="281" width="5" height="5" fill="#000"/>
<rect x="1213.1" y="257.5" width="5" height="5" fill="#000"/>
<rect x="1230.5" y="248.1" width="5" height="5" fill="#000"/>
<rect x="1247.8" y="253.6" width="5" height="5" fill="#000"/>
<rect x="1265.7" y="272.2" width="5" height="5" fill="#000"/>
<rect x="1284.3" y="300.8" width="5" height="5" fill="#000"/>
<rect x="1303.3" y="335.3" width="5" height="5" fill="#000"/>
<rect x="1324.3" y="373.4" width="5" height="5" fill="#000"/>
<rect x="1345.1" y="408.2" width="5" height="5" fill="#000"/>
<rect x="1369.1" y="440.1" width="5" height="5" fill="#000"/>
<rect x="1393.1" y="469.4" width="5" height="5" fill="#000"/>
<rect x="1420.3" y="495.4" width="5" height="5" fill="#000"/>
<rect x="1448.6" y="516.5" width="5" height="5" fill="#000"/>
<rect x="1481.1" y="529.2" width="5" height="5" fill="#000"/>
<path d="M814.3 16H1486.4V570.3H814.3Z" fill="none" stroke="#000" stroke-width="2.5"/>
<path d="M803.3 536.6H814.3M803.3 471.5H814.3M803.3 406.5H814.3M803.3 341.4H814.3M803.3 276.3H814.3M803.3 211.2H814.3M803.3 146.1H814.3M803.3 81.1H814.3M803.3 16H814.3M814.3 570.3V581.8M884.8 570.3V581.8M942.7 570.3V581.8M1005.5 570.3V581.8M1100 570.3V581.8M1184.2 570.3V581.8M1286.7 570.3V581.8M1360 570.3V581.8M1481.3 570.3V581.8" fill="none" stroke="#000" stroke-width="2.5"/>
<text x="1423" y="62.4" font-family="'Liberation Sans', sans-serif" font-size="28" fill="#000">B</text>
<path d="M153 1112.4C154.7 1111.8 159.9 1110.2 163 1108.7C166.1 1107.2 168.6 1104.7 171.6 1103.4C174.6 1102.1 178 1101.6 181 1100.8C184 1099.9 186.6 1098.8 189.6 1098.1C192.6 1097.4 196 1096.9 199.2 1096.4C202.4 1095.9 205.7 1095.4 209 1095.1C212.3 1094.8 215.7 1094.6 219 1094.5C222.3 1094.3 225.4 1094.3 228.6 1094.5C231.8 1094.6 234.6 1094.9 238 1095.1C241.4 1095.3 245.4 1095.3 249 1095.4C252.6 1095.6 256.1 1095.9 259.4 1096.1C262.7 1096.3 265.6 1096.1 269 1096.4C272.4 1096.8 276 1097.5 279.6 1098.1C283.2 1098.7 286.8 1099.2 290.4 1099.8C294 1100.4 297.3 1100.7 301 1101.8C304.7 1102.8 308.6 1104.5 312.4 1106.1C316.2 1107.7 319.8 1110.1 323.6 1111.4C327.4 1112.6 331.4 1113.3 335.4 1113.7C339.4 1114.1 343.4 1113.7 347.4 1113.7C351.4 1113.7 355.4 1113.7 359.4 1113.7C363.4 1113.7 367.3 1113.7 371.4 1113.7C375.5 1113.7 379.8 1113.7 384 1113.7C388.2 1113.7 392.3 1114 396.6 1113.7C400.9 1113.4 405.3 1115.3 409.6 1112.1C413.9 1108.9 418 1104.7 422.5 1094.5C427 1084.3 431.9 1066.1 436.7 1050.9C441.5 1035.7 446.4 1028.1 451.3 1003.1C456.2 978 461.1 934 466 900.6C470.9 867.2 475.7 833.1 480.7 802.6C485.7 772.2 490.8 740.4 495.9 718C501 695.7 505.8 675.5 511.3 668.6C516.8 661.7 522.9 665.4 528.7 676.7C534.5 688 540.1 711.9 546 736.3C551.9 760.7 557.8 789 563.9 823.1C570 857.3 576.2 910.1 582.5 940.9C588.8 971.7 594.8 986.9 601.5 1008C608.2 1029 615.5 1051.1 622.5 1067.2C629.5 1083.2 635.8 1096.5 643.3 1104.3C650.8 1112 659.3 1112.1 667.3 1113.7C675.3 1115.3 682.8 1113.7 691.3 1113.7C699.8 1113.7 709.2 1113.7 718.5 1113.7C727.8 1113.7 736.7 1113.7 746.8 1113.7C756.9 1113.7 773.9 1113.7 779.3 1113.7" fill="none" stroke="#000000" stroke-width="2.1" stroke-linejoin="round"/>
<path d="M153 1112.4C154.7 1111.9 159.9 1110.4 163 1109C166.1 1107.5 168.6 1105.2 171.6 1103.9C174.6 1102.7 178 1102.2 181 1101.4C184 1100.5 186.6 1099.5 189.6 1098.9C192.6 1098.2 196 1097.8 199.2 1097.3C202.4 1096.8 205.7 1096.3 209 1096C212.3 1095.7 215.7 1095.5 219 1095.4C222.3 1095.3 225.4 1095.3 228.6 1095.4C231.8 1095.5 234.6 1095.9 238 1096C241.4 1096.2 245.4 1096.2 249 1096.3C252.6 1096.5 256.1 1096.8 259.4 1097C262.7 1097.1 265.6 1097 269 1097.3C272.4 1097.6 276 1098.3 279.6 1098.9C283.2 1099.4 286.8 1099.9 290.4 1100.4C294 1101 297.3 1101.3 301 1102.3C304.7 1103.3 308.6 1104.9 312.4 1106.4C316.2 1108 319.8 1110.3 323.6 1111.5C327.4 1112.7 331.4 1113.3 335.4 1113.7C339.4 1114.1 343.4 1113.7 347.4 1113.7C351.4 1113.7 355.4 1113.7 359.4 1113.7C363.4 1113.7 367.3 1113.7 371.4 1113.7C375.5 1113.7 379.8 1113.7 384 1113.7C388.2 1113.7 392.3 1114 396.6 1113.7C400.9 1113.4 405.3 1115.1 409.6 1112.1C413.9 1109.1 418 1104 422.5 1095.8C427 1087.6 431.9 1075.2 436.7 1062.9C441.5 1050.7 446.4 1039.6 451.3 1022.3C456.2 1005 461.1 980.4 466 959.1C470.9 937.9 475.7 914.2 480.7 895C485.7 875.9 490.8 860 495.9 844C501 827.9 505.8 810.5 511.3 798.7C516.8 787 522.9 778.1 528.7 773.4C534.5 768.6 540.1 767.1 546 770.1C551.9 773.1 557.8 781.1 563.9 791.3C570 801.4 576.2 813.2 582.5 830.9C588.8 848.7 594.8 877.1 601.5 897.7C608.2 918.2 615.5 936.5 622.5 954.3C629.5 972 635.8 988.9 643.3 1004C650.8 1019.2 659.3 1033.2 667.3 1045C675.3 1056.9 682.8 1066.7 691.3 1075C699.8 1083.2 709.2 1088.8 718.5 1094.5C727.8 1100.2 736.7 1105.9 746.8 1109.1C756.9 1112.3 773.9 1112.9 779.3 1113.7" fill="none" stroke="#ee1010" stroke-width="2.1" stroke-linejoin="round"/>
<path d="M153 1112.5C154.7 1112 159.9 1110.6 163 1109.3C166.1 1108 168.6 1105.8 171.6 1104.6C174.6 1103.5 178 1103.1 181 1102.3C184 1101.5 186.6 1100.6 189.6 1099.9C192.6 1099.3 196 1098.9 199.2 1098.5C202.4 1098 205.7 1097.6 209 1097.3C212.3 1097 215.7 1096.8 219 1096.7C222.3 1096.6 225.4 1096.6 228.6 1096.7C231.8 1096.8 234.6 1097.2 238 1097.3C241.4 1097.4 245.4 1097.4 249 1097.6C252.6 1097.7 256.1 1098 259.4 1098.2C262.7 1098.3 265.6 1098.2 269 1098.5C272.4 1098.8 276 1099.4 279.6 1099.9C283.2 1100.4 286.8 1100.9 290.4 1101.4C294 1101.9 297.3 1102.2 301 1103.2C304.7 1104.1 308.6 1105.5 312.4 1107C316.2 1108.4 319.8 1110.5 323.6 1111.7C327.4 1112.8 331.4 1113.4 335.4 1113.7C339.4 1114 343.4 1113.7 347.4 1113.7C351.4 1113.7 355.4 1113.7 359.4 1113.7C363.4 1113.7 367.3 1113.7 371.4 1113.7C375.5 1113.7 379.8 1113.7 384 1113.7C388.2 1113.7 392.3 1113.7 396.6 1113.7C400.9 1113.7 405.3 1115.2 409.6 1113.7C413.9 1112.2 418 1109.5 422.5 1104.9C427 1100.3 431.9 1094 436.7 1086C441.5 1078.1 446.4 1068.1 451.3 1057.1C456.2 1046.1 461.1 1033.8 466 1020C470.9 1006.2 475.7 990.2 480.7 974.4C485.7 958.7 490.8 941.5 495.9 925.3C501 909.1 505.8 892 511.3 877.5C516.8 862.9 522.9 849.2 528.7 838.1C534.5 827 540.1 817.3 546 810.8C551.9 804.3 557.8 800 563.9 799.1C570 798.1 576.2 800.4 582.5 805.2C588.8 810.1 594.8 818.2 601.5 828C608.2 837.8 615.5 850.7 622.5 864.1C629.5 877.6 635.8 893.5 643.3 908.7C650.8 924 659.3 940.2 667.3 955.6C675.3 971 682.8 985 691.3 1001.1C699.8 1017.3 709.2 1036.5 718.5 1052.5C727.8 1068.6 736.7 1087.2 746.8 1097.4C756.9 1107.6 773.9 1111 779.3 1113.7" fill="none" stroke="#18e818" stroke-width="2.1" stroke-linejoin="round"/>
<path d="M153 1112.4C154.7 1111.9 159.9 1110.4 163 1109C166.1 1107.5 168.6 1105.2 171.6 1103.9C174.6 1102.7 178 1102.2 181 1101.4C184 1100.5 186.6 1099.5 189.6 1098.9C192.6 1098.2 196 1097.8 199.2 1097.3C202.4 1096.8 205.7 1096.3 209 1096C212.3 1095.7 215.7 1095.5 219 1095.4C222.3 1095.3 225.4 1095.3 228.6 1095.4C231.8 1095.5 234.6 1095.9 238 1096C241.4 1096.2 245.4 1096.2 249 1096.3C252.6 1096.5 256.1 1096.8 259.4 1097C262.7 1097.1 265.6 1097 269 1097.3C272.4 1097.6 276 1098.3 279.6 1098.9C283.2 1099.4 286.8 1099.9 290.4 1100.4C294 1101 297.3 1101.3 301 1102.3C304.7 1103.3 308.6 1104.9 312.4 1106.4C316.2 1108 319.8 1110.3 323.6 1111.5C327.4 1112.7 331.4 1113.3 335.4 1113.7C339.4 1114.1 343.4 1113.7 347.4 1113.7C351.4 1113.7 355.4 1113.7 359.4 1113.7C363.4 1113.7 367.3 1113.7 371.4 1113.7C375.5 1113.7 379.8 1113.7 384 1113.7C388.2 1113.7 392.3 1114 396.6 1113.7C400.9 1113.4 405.3 1115.1 409.6 1112.1C413.9 1109.1 418 1103.4 422.5 1095.8C427 1088.2 431.9 1078.8 436.7 1066.5C441.5 1054.3 446.4 1039.6 451.3 1022.3C456.2 1004.9 461.1 983.4 466 962.4C470.9 941.4 475.7 918.2 480.7 896.3C485.7 874.5 490.8 850.9 495.9 831.3C501 811.6 505.8 792.1 511.3 778.6C516.8 765 522.9 754.8 528.7 749.9C534.5 745.1 540.1 744.3 546 749.3C551.9 754.2 557.8 765.9 563.9 779.5C570 793.2 576.2 811.3 582.5 830.9C588.8 850.6 594.8 875.6 601.5 897.7C608.2 919.7 615.5 942.4 622.5 963.1C629.5 983.7 635.8 1004.8 643.3 1021.6C650.8 1038.5 659.3 1052.4 667.3 1064.2C675.3 1076.1 682.8 1085.3 691.3 1092.6C699.8 1099.8 709.2 1104.5 718.5 1107.8C727.8 1111.2 736.7 1111.7 746.8 1112.7C756.9 1113.7 773.9 1113.5 779.3 1113.7" fill="none" stroke="#f4f018" stroke-width="2.1" stroke-linejoin="round"/>
<circle cx="153" cy="1112.4" r="3.2" fill="#000"/>
<circle cx="163" cy="1108.7" r="3.2" fill="#000"/>
<circle cx="171.6" cy="1103.4" r="3.2" fill="#000"/>
<circle cx="181" cy="1100.8" r="3.2" fill="#000"/>
<circle cx="189.6" cy="1098.1" r="3.2" fill="#000"/>
<circle cx="199.2" cy="1096.4" r="3.2" fill="#000"/>
<circle cx="209" cy="1095.1" r="3.2" fill="#000"/>
<circle cx="219" cy="1094.5" r="3.2" fill="#000"/>
<circle cx="228.6" cy="1094.5" r="3.2" fill="#000"/>
<circle cx="238" cy="1095.1" r="3.2" fill="#000"/>
<circle cx="249" cy="1095.4" r="3.2" fill="#000"/>
<circle cx="259.4" cy="1096.1" r="3.2" fill="#000"/>
<circle cx="269" cy="1096.4" r="3.2" fill="#000"/>
<circle cx="279.6" cy="1098.1" r="3.2" fill="#000"/>
<circle cx="290.4" cy="1099.8" r="3.2" fill="#000"/>
<circle cx="301" cy="1101.8" r="3.2" fill="#000"/>
<circle cx="312.4" cy="1106.1" r="3.2" fill="#000"/>
<circle cx="323.6" cy="1111.4" r="3.2" fill="#000"/>
<circle cx="335.4" cy="1113.7" r="3.2" fill="#000"/>
<circle cx="347.4" cy="1113.7" r="3.2" fill="#000"/>
<circle cx="359.4" cy="1113.7" r="3.2" fill="#000"/>
<circle cx="371.4" cy="1113.7" r="3.2" fill="#000"/>
<circle cx="384" cy="1113.7" r="3.2" fill="#000"/>
<circle cx="396.6" cy="1113.7" r="3.2" fill="#000"/>
<circle cx="409.6" cy="1112.1" r="3.2" fill="#000"/>
<circle cx="422.5" cy="1094.5" r="3.2" fill="#000"/>
<circle cx="436.7" cy="1050.9" r="3.2" fill="#000"/>
<circle cx="451.3" cy="1003.1" r="3.2" fill="#000"/>
<circle cx="466" cy="900.6" r="3.2" fill="#000"/>
<circle cx="480.7" cy="802.6" r="3.2" fill="#000"/>
<circle cx="495.9" cy="718" r="3.2" fill="#000"/>
<circle cx="511.3" cy="668.6" r="3.2" fill="#000"/>
<circle cx="528.7" cy="676.7" r="3.2" fill="#000"/>
<circle cx="546" cy="736.3" r="3.2" fill="#000"/>
<circle cx="563.9" cy="823.1" r="3.2" fill="#000"/>
<circle cx="582.5" cy="940.9" r="3.2" fill="#000"/>
<circle cx="601.5" cy="1008" r="3.2" fill="#000"/>
<circle cx="622.5" cy="1067.2" r="3.2" fill="#000"/>
<circle cx="643.3" cy="1104.3" r="3.2" fill="#000"/>
<circle cx="667.3" cy="1113.7" r="3.2" fill="#000"/>
<circle cx="691.3" cy="1113.7" r="3.2" fill="#000"/>
<circle cx="718.5" cy="1113.7" r="3.2" fill="#000"/>
<circle cx="746.8" cy="1113.7" r="3.2" fill="#000"/>
<circle cx="779.3" cy="1113.7" r="3.2" fill="#000"/>
<circle cx="153" cy="1112.4" r="3.2" fill="#000"/>
<circle cx="163" cy="1109" r="3.2" fill="#000"/>
<circle cx="171.6" cy="1103.9" r="3.2" fill="#000"/>
<circle cx="181" cy="1101.4" r="3.2" fill="#000"/>
<circle cx="189.6" cy="1098.9" r="3.2" fill="#000"/>
<circle cx="199.2" cy="1097.3" r="3.2" fill="#000"/>
<circle cx="209" cy="1096" r="3.2" fill="#000"/>
<circle cx="219" cy="1095.4" r="3.2" fill="#000"/>
<circle cx="228.6" cy="1095.4" r="3.2" fill="#000"/>
<circle cx="238" cy="1096" r="3.2" fill="#000"/>
<circle cx="249" cy="1096.3" r="3.2" fill="#000"/>
<circle cx="259.4" cy="1097" r="3.2" fill="#000"/>
<circle cx="269" cy="1097.3" r="3.2" fill="#000"/>
<circle cx="279.6" cy="1098.9" r="3.2" fill="#000"/>
<circle cx="290.4" cy="1100.4" r="3.2" fill="#000"/>
<circle cx="301" cy="1102.3" r="3.2" fill="#000"/>
<circle cx="312.4" cy="1106.4" r="3.2" fill="#000"/>
<circle cx="323.6" cy="1111.5" r="3.2" fill="#000"/>
<circle cx="335.4" cy="1113.7" r="3.2" fill="#000"/>
<circle cx="347.4" cy="1113.7" r="3.2" fill="#000"/>
<circle cx="359.4" cy="1113.7" r="3.2" fill="#000"/>
<circle cx="371.4" cy="1113.7" r="3.2" fill="#000"/>
<circle cx="384" cy="1113.7" r="3.2" fill="#000"/>
<circle cx="396.6" cy="1113.7" r="3.2" fill="#000"/>
<circle cx="409.6" cy="1112.1" r="3.2" fill="#000"/>
<circle cx="422.5" cy="1095.8" r="3.2" fill="#000"/>
<circle cx="436.7" cy="1062.9" r="3.2" fill="#000"/>
<circle cx="451.3" cy="1022.3" r="3.2" fill="#000"/>
<circle cx="466" cy="959.1" r="3.2" fill="#000"/>
<circle cx="480.7" cy="895" r="3.2" fill="#000"/>
<circle cx="495.9" cy="844" r="3.2" fill="#000"/>
<circle cx="511.3" cy="798.7" r="3.2" fill="#000"/>
<circle cx="528.7" cy="773.4" r="3.2" fill="#000"/>
<circle cx="546" cy="770.1" r="3.2" fill="#000"/>
<circle cx="563.9" cy="791.3" r="3.2" fill="#000"/>
<circle cx="582.5" cy="830.9" r="3.2" fill="#000"/>
<circle cx="601.5" cy="897.7" r="3.2" fill="#000"/>
<circle cx="622.5" cy="954.3" r="3.2" fill="#000"/>
<circle cx="643.3" cy="1004" r="3.2" fill="#000"/>
<circle cx="667.3" cy="1045" r="3.2" fill="#000"/>
<circle cx="691.3" cy="1075" r="3.2" fill="#000"/>
<circle cx="718.5" cy="1094.5" r="3.2" fill="#000"/>
<circle cx="746.8" cy="1109.1" r="3.2" fill="#000"/>
<circle cx="779.3" cy="1113.7" r="3.2" fill="#000"/>
<circle cx="153" cy="1112.5" r="3.2" fill="#000"/>
<circle cx="163" cy="1109.3" r="3.2" fill="#000"/>
<circle cx="171.6" cy="1104.6" r="3.2" fill="#000"/>
<circle cx="181" cy="1102.3" r="3.2" fill="#000"/>
<circle cx="189.6" cy="1099.9" r="3.2" fill="#000"/>
<circle cx="199.2" cy="1098.5" r="3.2" fill="#000"/>
<circle cx="209" cy="1097.3" r="3.2" fill="#000"/>
<circle cx="219" cy="1096.7" r="3.2" fill="#000"/>
<circle cx="228.6" cy="1096.7" r="3.2" fill="#000"/>
<circle cx="238" cy="1097.3" r="3.2" fill="#000"/>
<circle cx="249" cy="1097.6" r="3.2" fill="#000"/>
<circle cx="259.4" cy="1098.2" r="3.2" fill="#000"/>
<circle cx="269" cy="1098.5" r="3.2" fill="#000"/>
<circle cx="279.6" cy="1099.9" r="3.2" fill="#000"/>
<circle cx="290.4" cy="1101.4" r="3.2" fill="#000"/>
<circle cx="301" cy="1103.2" r="3.2" fill="#000"/>
<circle cx="312.4" cy="1107" r="3.2" fill="#000"/>
<circle cx="323.6" cy="1111.7" r="3.2" fill="#000"/>
<circle cx="335.4" cy="1113.7" r="3.2" fill="#000"/>
<circle cx="347.4" cy="1113.7" r="3.2" fill="#000"/>
<circle cx="359.4" cy="1113.7" r="3.2" fill="#000"/>
<circle cx="371.4" cy="1113.7" r="3.2" fill="#000"/>
<circle cx="384" cy="1113.7" r="3.2" fill="#000"/>
<circle cx="396.6" cy="1113.7" r="3.2" fill="#000"/>
<circle cx="409.6" cy="1113.7" r="3.2" fill="#000"/>
<circle cx="422.5" cy="1104.9" r="3.2" fill="#000"/>
<circle cx="436.7" cy="1086" r="3.2" fill="#000"/>
<circle cx="451.3" cy="1057.1" r="3.2" fill="#000"/>
<circle cx="466" cy="1020" r="3.2" fill="#000"/>
<circle cx="480.7" cy="974.4" r="3.2" fill="#000"/>
<circle cx="495.9" cy="925.3" r="3.2" fill="#000"/>
<circle cx="511.3" cy="877.5" r="3.2" fill="#000"/>
<circle cx="528.7" cy="838.1" r="3.2" fill="#000"/>
<circle cx="546" cy="810.8" r="3.2" fill="#000"/>
<circle cx="563.9" cy="799.1" r="3.2" fill="#000"/>
<circle cx="582.5" cy="805.2" r="3.2" fill="#000"/>
<circle cx="601.5" cy="828" r="3.2" fill="#000"/>
<circle cx="622.5" cy="864.1" r="3.2" fill="#000"/>
<circle cx="643.3" cy="908.7" r="3.2" fill="#000"/>
<circle cx="667.3" cy="955.6" r="3.2" fill="#000"/>
<circle cx="691.3" cy="1001.1" r="3.2" fill="#000"/>
<circle cx="718.5" cy="1052.5" r="3.2" fill="#000"/>
<circle cx="746.8" cy="1097.4" r="3.2" fill="#000"/>
<circle cx="779.3" cy="1113.7" r="3.2" fill="#000"/>
<circle cx="153" cy="1112.4" r="3.2" fill="#000"/>
<circle cx="163" cy="1109" r="3.2" fill="#000"/>
<circle cx="171.6" cy="1103.9" r="3.2" fill="#000"/>
<circle cx="181" cy="1101.4" r="3.2" fill="#000"/>
<circle cx="189.6" cy="1098.9" r="3.2" fill="#000"/>
<circle cx="199.2" cy="1097.3" r="3.2" fill="#000"/>
<circle cx="209" cy="1096" r="3.2" fill="#000"/>
<circle cx="219" cy="1095.4" r="3.2" fill="#000"/>
<circle cx="228.6" cy="1095.4" r="3.2" fill="#000"/>
<circle cx="238" cy="1096" r="3.2" fill="#000"/>
<circle cx="249" cy="1096.3" r="3.2" fill="#000"/>
<circle cx="259.4" cy="1097" r="3.2" fill="#000"/>
<circle cx="269" cy="1097.3" r="3.2" fill="#000"/>
<circle cx="279.6" cy="1098.9" r="3.2" fill="#000"/>
<circle cx="290.4" cy="1100.4" r="3.2" fill="#000"/>
<circle cx="301" cy="1102.3" r="3.2" fill="#000"/>
<circle cx="312.4" cy="1106.4" r="3.2" fill="#000"/>
<circle cx="323.6" cy="1111.5" r="3.2" fill="#000"/>
<circle cx="335.4" cy="1113.7" r="3.2" fill="#000"/>
<circle cx="347.4" cy="1113.7" r="3.2" fill="#000"/>
<circle cx="359.4" cy="1113.7" r="3.2" fill="#000"/>
<circle cx="371.4" cy="1113.7" r="3.2" fill="#000"/>
<circle cx="384" cy="1113.7" r="3.2" fill="#000"/>
<circle cx="396.6" cy="1113.7" r="3.2" fill="#000"/>
<circle cx="409.6" cy="1112.1" r="3.2" fill="#000"/>
<circle cx="422.5" cy="1095.8" r="3.2" fill="#000"/>
<circle cx="436.7" cy="1066.5" r="3.2" fill="#000"/>
<circle cx="451.3" cy="1022.3" r="3.2" fill="#000"/>
<circle cx="466" cy="962.4" r="3.2" fill="#000"/>
<circle cx="480.7" cy="896.3" r="3.2" fill="#000"/>
<circle cx="495.9" cy="831.3" r="3.2" fill="#000"/>
<circle cx="511.3" cy="778.6" r="3.2" fill="#000"/>
<circle cx="528.7" cy="749.9" r="3.2" fill="#000"/>
<circle cx="546" cy="749.3" r="3.2" fill="#000"/>
<circle cx="563.9" cy="779.5" r="3.2" fill="#000"/>
<circle cx="582.5" cy="830.9" r="3.2" fill="#000"/>
<circle cx="601.5" cy="897.7" r="3.2" fill="#000"/>
<circle cx="622.5" cy="963.1" r="3.2" fill="#000"/>
<circle cx="643.3" cy="1021.6" r="3.2" fill="#000"/>
<circle cx="667.3" cy="1064.2" r="3.2" fill="#000"/>
<circle cx="691.3" cy="1092.6" r="3.2" fill="#000"/>
<circle cx="718.5" cy="1107.8" r="3.2" fill="#000"/>
<circle cx="746.8" cy="1112.7" r="3.2" fill="#000"/>
<circle cx="779.3" cy="1113.7" r="3.2" fill="#000"/>
<path d="M110 593.1H783.5V1147.2H110Z" fill="none" stroke="#000" stroke-width="2.5"/>
<path d="M99 1113.7H110M99 1048.6H110M99 983.6H110M99 918.5H110M99 853.4H110M99 788.3H110M99 723.2H110M99 658.2H110M99 593.1H110M110 1147.2V1158.7M180.5 1147.2V1158.7M238.4 1147.2V1158.7M301.2 1147.2V1158.7M395.7 1147.2V1158.7M479.9 1147.2V1158.7M582.4 1147.2V1158.7M655.7 1147.2V1158.7M777 1147.2V1158.7" fill="none" stroke="#000" stroke-width="2.5"/>
<text x="87.4" y="1122.2" font-family="'Liberation Serif', serif" font-size="29" text-anchor="end" fill="#000">0</text>
<text x="87.4" y="1057.1" font-family="'Liberation Serif', serif" font-size="29" text-anchor="end" fill="#000">2</text>
<text x="87.4" y="992.1" font-family="'Liberation Serif', serif" font-size="29" text-anchor="end" fill="#000">4</text>
<text x="87.4" y="927" font-family="'Liberation Serif', serif" font-size="29" text-anchor="end" fill="#000">6</text>
<text x="87.4" y="861.9" font-family="'Liberation Serif', serif" font-size="29" text-anchor="end" fill="#000">8</text>
<text x="87.4" y="796.8" font-family="'Liberation Serif', serif" font-size="29" text-anchor="end" fill="#000">10</text>
<text x="87.4" y="731.8" font-family="'Liberation Serif', serif" font-size="29" text-anchor="end" fill="#000">12</text>
<text x="87.4" y="666.7" font-family="'Liberation Serif', serif" font-size="29" text-anchor="end" fill="#000">14</text>
<text x="87.4" y="601.6" font-family="'Liberation Serif', serif" font-size="29" text-anchor="end" fill="#000">16</text>
<text x="717.7" y="636.8" font-family="'Liberation Sans', sans-serif" font-size="28" fill="#000">C</text>
<path d="M857.3 1112.6C859 1112.2 864.2 1111.9 867.3 1110.3C870.4 1108.7 872.9 1104.7 875.9 1103.1C878.9 1101.5 882.3 1101.5 885.3 1100.7C888.3 1099.8 890.9 1098.8 893.9 1098C896.9 1097.3 900.3 1096.6 903.5 1096.1C906.7 1095.6 910 1095.3 913.3 1095C916.6 1094.8 920 1094.7 923.3 1094.6C926.6 1094.6 929.7 1094.6 932.9 1094.6C936.1 1094.6 938.9 1094.6 942.3 1094.6C945.7 1094.6 949.7 1094.6 953.3 1094.6C956.9 1094.7 960.4 1094.8 963.7 1094.8C967 1094.9 969.9 1094.9 973.3 1095C976.7 1095.1 980.3 1095 983.9 1095.2C987.5 1095.4 991.1 1095.4 994.7 1096C998.3 1096.5 1001.6 1097.4 1005.3 1098.4C1009 1099.4 1012.9 1100.5 1016.7 1102.2C1020.5 1103.9 1024.1 1107 1027.9 1108.8C1031.7 1110.6 1035.7 1112.3 1039.7 1113.1C1043.7 1113.9 1047.7 1113.4 1051.7 1113.5C1055.7 1113.6 1059.7 1113.5 1063.7 1113.5C1067.7 1113.5 1071.6 1113.5 1075.7 1113.5C1079.8 1113.5 1084.1 1113.5 1088.3 1113.5C1092.5 1113.5 1096.6 1113.5 1100.9 1113.5C1105.2 1113.5 1109.6 1115.4 1113.9 1113.5C1118.2 1111.6 1122.3 1111.1 1126.8 1102.1C1131.3 1093.2 1136.2 1075 1141 1059.8C1145.8 1044.7 1150.7 1038.6 1155.6 1011.4C1160.5 984.2 1165.4 935.3 1170.3 896.6C1175.2 857.9 1180 816.2 1185 779.1C1190 742.1 1195.1 701.1 1200.2 674.4C1205.3 647.7 1210.1 624.3 1215.6 618.8C1221.1 613.3 1227.2 622.9 1233 641.2C1238.8 659.6 1244.4 695.2 1250.3 729.1C1256.2 762.9 1262.1 802.8 1268.2 844.2C1274.3 885.6 1280.5 943.1 1286.8 977.2C1293.1 1011.3 1299.1 1029 1305.8 1048.8C1312.5 1068.5 1319.8 1084.8 1326.8 1095.6C1333.8 1106.4 1340.1 1110.5 1347.6 1113.5C1355.1 1116.5 1363.6 1113.5 1371.6 1113.5C1379.6 1113.5 1387.1 1113.5 1395.6 1113.5C1404.1 1113.5 1413.5 1113.5 1422.8 1113.5C1432 1113.5 1441 1113.5 1451.1 1113.5C1461.2 1113.5 1478.2 1113.5 1483.6 1113.5" fill="none" stroke="#000000" stroke-width="2.1" stroke-linejoin="round"/>
<path d="M857.3 1112.6C859 1112.2 864.2 1111.9 867.3 1110.4C870.4 1108.9 872.9 1105 875.9 1103.5C878.9 1101.9 882.3 1101.9 885.3 1101.1C888.3 1100.3 890.9 1099.3 893.9 1098.6C896.9 1097.8 900.3 1097.2 903.5 1096.7C906.7 1096.3 910 1095.9 913.3 1095.7C916.6 1095.4 920 1095.3 923.3 1095.3C926.6 1095.2 929.7 1095.3 932.9 1095.3C936.1 1095.3 938.9 1095.3 942.3 1095.3C945.7 1095.3 949.7 1095.3 953.3 1095.3C956.9 1095.3 960.4 1095.4 963.7 1095.5C967 1095.5 969.9 1095.6 973.3 1095.7C976.7 1095.7 980.3 1095.7 983.9 1095.8C987.5 1096 991.1 1096 994.7 1096.6C998.3 1097.1 1001.6 1097.9 1005.3 1098.9C1009 1099.9 1012.9 1100.9 1016.7 1102.6C1020.5 1104.2 1024.1 1107.2 1027.9 1108.9C1031.7 1110.7 1035.7 1112.4 1039.7 1113.1C1043.7 1113.9 1047.7 1113.4 1051.7 1113.5C1055.7 1113.6 1059.7 1113.5 1063.7 1113.5C1067.7 1113.5 1071.6 1113.5 1075.7 1113.5C1079.8 1113.5 1084.1 1113.5 1088.3 1113.5C1092.5 1113.5 1096.6 1113.5 1100.9 1113.5C1105.2 1113.5 1109.6 1113.8 1113.9 1113.5C1118.2 1113.2 1122.3 1114.1 1126.8 1111.9C1131.3 1109.7 1136.2 1111 1141 1100.2C1145.8 1089.4 1150.7 1067.5 1155.6 1047.1C1160.5 1026.8 1165.4 1006.3 1170.3 978.2C1175.2 950.1 1180 914.6 1185 878.7C1190 842.7 1195.1 796.6 1200.2 762.6C1205.3 728.5 1210.1 692.7 1215.6 674.4C1221.1 656.1 1227.2 653.1 1233 652.6C1238.8 652.2 1244.4 656.4 1250.3 671.8C1256.2 687.3 1262.1 716.3 1268.2 745.3C1274.3 774.3 1280.5 807.9 1286.8 845.8C1293.1 883.7 1299.1 938.5 1305.8 972.7C1312.5 1006.8 1319.8 1030.6 1326.8 1050.7C1333.8 1070.9 1340.1 1084.2 1347.6 1093.7C1355.1 1103.1 1363.6 1104.3 1371.6 1107.6C1379.6 1111 1387.1 1112.5 1395.6 1113.5C1404.1 1114.5 1413.5 1113.5 1422.8 1113.5C1432 1113.5 1441 1113.5 1451.1 1113.5C1461.2 1113.5 1478.2 1113.5 1483.6 1113.5" fill="none" stroke="#ee1010" stroke-width="2.1" stroke-linejoin="round"/>
<path d="M857.3 1112.7C859 1112.4 864.2 1112.1 867.3 1110.7C870.4 1109.4 872.9 1105.9 875.9 1104.6C878.9 1103.2 882.3 1103.2 885.3 1102.4C888.3 1101.7 890.9 1100.8 893.9 1100.2C896.9 1099.5 900.3 1099 903.5 1098.5C906.7 1098.1 910 1097.8 913.3 1097.6C916.6 1097.3 920 1097.3 923.3 1097.2C926.6 1097.2 929.7 1097.2 932.9 1097.2C936.1 1097.2 938.9 1097.2 942.3 1097.2C945.7 1097.2 949.7 1097.2 953.3 1097.2C956.9 1097.3 960.4 1097.3 963.7 1097.4C967 1097.5 969.9 1097.5 973.3 1097.6C976.7 1097.6 980.3 1097.6 983.9 1097.7C987.5 1097.9 991.1 1097.9 994.7 1098.4C998.3 1098.8 1001.6 1099.6 1005.3 1100.5C1009 1101.4 1012.9 1102.3 1016.7 1103.7C1020.5 1105.2 1024.1 1107.9 1027.9 1109.4C1031.7 1111 1035.7 1112.5 1039.7 1113.2C1043.7 1113.9 1047.7 1113.4 1051.7 1113.5C1055.7 1113.6 1059.7 1113.5 1063.7 1113.5C1067.7 1113.5 1071.6 1113.5 1075.7 1113.5C1079.8 1113.5 1084.1 1113.5 1088.3 1113.5C1092.5 1113.5 1096.6 1113.5 1100.9 1113.5C1105.2 1113.5 1109.6 1113.5 1113.9 1113.5C1118.2 1113.5 1122.3 1114.5 1126.8 1113.5C1131.3 1112.5 1136.2 1112 1141 1107.6C1145.8 1103.3 1150.7 1096.6 1155.6 1087.2C1160.5 1077.7 1165.4 1067.6 1170.3 1050.7C1175.2 1033.8 1180 1008 1185 985.7C1190 963.4 1195.1 942.5 1200.2 917C1205.3 891.6 1210.1 859.5 1215.6 832.8C1221.1 806.1 1227.2 776.4 1233 757C1238.8 737.7 1244.4 724.7 1250.3 716.7C1256.2 708.7 1262.1 704.1 1268.2 708.9C1274.3 713.7 1280.5 728.8 1286.8 745.3C1293.1 761.8 1299.1 783.8 1305.8 807.8C1312.5 831.7 1319.8 860.6 1326.8 889.1C1333.8 917.6 1340.1 953.6 1347.6 978.8C1355.1 1004.1 1363.6 1023 1371.6 1040.3C1379.6 1057.6 1387.1 1071.1 1395.6 1082.6C1404.1 1094.1 1413.5 1104.1 1422.8 1109.3C1432 1114.4 1441 1112.8 1451.1 1113.5C1461.2 1114.2 1478.2 1113.5 1483.6 1113.5" fill="none" stroke="#18e818" stroke-width="2.1" stroke-linejoin="round"/>
<path d="M857.3 1112.6C859 1112.2 864.2 1111.9 867.3 1110.5C870.4 1109 872.9 1105.2 875.9 1103.7C878.9 1102.1 882.3 1102.1 885.3 1101.3C888.3 1100.5 890.9 1099.5 893.9 1098.8C896.9 1098.1 900.3 1097.5 903.5 1097C906.7 1096.6 910 1096.2 913.3 1096C916.6 1095.7 920 1095.7 923.3 1095.6C926.6 1095.6 929.7 1095.6 932.9 1095.6C936.1 1095.6 938.9 1095.6 942.3 1095.6C945.7 1095.6 949.7 1095.6 953.3 1095.6C956.9 1095.6 960.4 1095.7 963.7 1095.8C967 1095.8 969.9 1095.9 973.3 1096C976.7 1096 980.3 1096 983.9 1096.1C987.5 1096.3 991.1 1096.4 994.7 1096.9C998.3 1097.4 1001.6 1098.2 1005.3 1099.2C1009 1100.2 1012.9 1101.1 1016.7 1102.8C1020.5 1104.4 1024.1 1107.3 1027.9 1109C1031.7 1110.8 1035.7 1112.4 1039.7 1113.1C1043.7 1113.9 1047.7 1113.4 1051.7 1113.5C1055.7 1113.6 1059.7 1113.5 1063.7 1113.5C1067.7 1113.5 1071.6 1113.5 1075.7 1113.5C1079.8 1113.5 1084.1 1113.5 1088.3 1113.5C1092.5 1113.5 1096.6 1113.5 1100.9 1113.5C1105.2 1113.5 1109.6 1114 1113.9 1113.5C1118.2 1113 1122.3 1116.2 1126.8 1110.2C1131.3 1104.3 1136.2 1092.6 1141 1078C1145.8 1063.5 1150.7 1042.1 1155.6 1022.8C1160.5 1003.5 1165.4 986.3 1170.3 962.3C1175.2 938.2 1180 907.5 1185 878.7C1190 849.9 1195.1 814.3 1200.2 789.6C1205.3 764.8 1210.1 745.3 1215.6 730.4C1221.1 715.4 1227.2 702.3 1233 699.8C1238.8 697.2 1244.4 703.2 1250.3 715.1C1256.2 726.9 1262.1 749.4 1268.2 771C1274.3 792.6 1280.5 816.3 1286.8 844.5C1293.1 872.7 1299.1 912.7 1305.8 940.1C1312.5 967.6 1319.8 988.5 1326.8 1009.1C1333.8 1029.6 1340.1 1047 1347.6 1063.4C1355.1 1079.8 1363.6 1099.3 1371.6 1107.6C1379.6 1116 1387.1 1112.5 1395.6 1113.5C1404.1 1114.5 1413.5 1113.5 1422.8 1113.5C1432 1113.5 1441 1113.5 1451.1 1113.5C1461.2 1113.5 1478.2 1113.5 1483.6 1113.5" fill="none" stroke="#f4f018" stroke-width="2.1" stroke-linejoin="round"/>
<circle cx="857.3" cy="1112.6" r="3.2" fill="#000"/>
<circle cx="867.3" cy="1110.3" r="3.2" fill="#000"/>
<circle cx="875.9" cy="1103.1" r="3.2" fill="#000"/>
<circle cx="885.3" cy="1100.7" r="3.2" fill="#000"/>
<circle cx="893.9" cy="1098" r="3.2" fill="#000"/>
<circle cx="903.5" cy="1096.1" r="3.2" fill="#000"/>
<circle cx="913.3" cy="1095" r="3.2" fill="#000"/>
<circle cx="923.3" cy="1094.6" r="3.2" fill="#000"/>
<circle cx="932.9" cy="1094.6" r="3.2" fill="#000"/>
<circle cx="942.3" cy="1094.6" r="3.2" fill="#000"/>
<circle cx="953.3" cy="1094.6" r="3.2" fill="#000"/>
<circle cx="963.7" cy="1094.8" r="3.2" fill="#000"/>
<circle cx="973.3" cy="1095" r="3.2" fill="#000"/>
<circle cx="983.9" cy="1095.2" r="3.2" fill="#000"/>
<circle cx="994.7" cy="1096" r="3.2" fill="#000"/>
<circle cx="1005.3" cy="1098.4" r="3.2" fill="#000"/>
<circle cx="1016.7" cy="1102.2" r="3.2" fill="#000"/>
<circle cx="1027.9" cy="1108.8" r="3.2" fill="#000"/>
<circle cx="1039.7" cy="1113.1" r="3.2" fill="#000"/>
<circle cx="1051.7" cy="1113.5" r="3.2" fill="#000"/>
<circle cx="1063.7" cy="1113.5" r="3.2" fill="#000"/>
<circle cx="1075.7" cy="1113.5" r="3.2" fill="#000"/>
<circle cx="1088.3" cy="1113.5" r="3.2" fill="#000"/>
<circle cx="1100.9" cy="1113.5" r="3.2" fill="#000"/>
<circle cx="1113.9" cy="1113.5" r="3.2" fill="#000"/>
<circle cx="1126.8" cy="1102.1" r="3.2" fill="#000"/>
<circle cx="1141" cy="1059.8" r="3.2" fill="#000"/>
<circle cx="1155.6" cy="1011.4" r="3.2" fill="#000"/>
<circle cx="1170.3" cy="896.6" r="3.2" fill="#000"/>
<circle cx="1185" cy="779.1" r="3.2" fill="#000"/>
<circle cx="1200.2" cy="674.4" r="3.2" fill="#000"/>
<circle cx="1215.6" cy="618.8" r="3.2" fill="#000"/>
<circle cx="1233" cy="641.2" r="3.2" fill="#000"/>
<circle cx="1250.3" cy="729.1" r="3.2" fill="#000"/>
<circle cx="1268.2" cy="844.2" r="3.2" fill="#000"/>
<circle cx="1286.8" cy="977.2" r="3.2" fill="#000"/>
<circle cx="1305.8" cy="1048.8" r="3.2" fill="#000"/>
<circle cx="1326.8" cy="1095.6" r="3.2" fill="#000"/>
<circle cx="1347.6" cy="1113.5" r="3.2" fill="#000"/>
<circle cx="1371.6" cy="1113.5" r="3.2" fill="#000"/>
<circle cx="1395.6" cy="1113.5" r="3.2" fill="#000"/>
<circle cx="1422.8" cy="1113.5" r="3.2" fill="#000"/>
<circle cx="1451.1" cy="1113.5" r="3.2" fill="#000"/>
<circle cx="1483.6" cy="1113.5" r="3.2" fill="#000"/>
<circle cx="857.3" cy="1112.6" r="3.2" fill="#000"/>
<circle cx="867.3" cy="1110.4" r="3.2" fill="#000"/>
<circle cx="875.9" cy="1103.5" r="3.2" fill="#000"/>
<circle cx="885.3" cy="1101.1" r="3.2" fill="#000"/>
<circle cx="893.9" cy="1098.6" r="3.2" fill="#000"/>
<circle cx="903.5" cy="1096.7" r="3.2" fill="#000"/>
<circle cx="913.3" cy="1095.7" r="3.2" fill="#000"/>
<circle cx="923.3" cy="1095.3" r="3.2" fill="#000"/>
<circle cx="932.9" cy="1095.3" r="3.2" fill="#000"/>
<circle cx="942.3" cy="1095.3" r="3.2" fill="#000"/>
<circle cx="953.3" cy="1095.3" r="3.2" fill="#000"/>
<circle cx="963.7" cy="1095.5" r="3.2" fill="#000"/>
<circle cx="973.3" cy="1095.7" r="3.2" fill="#000"/>
<circle cx="983.9" cy="1095.8" r="3.2" fill="#000"/>
<circle cx="994.7" cy="1096.6" r="3.2" fill="#000"/>
<circle cx="1005.3" cy="1098.9" r="3.2" fill="#000"/>
<circle cx="1016.7" cy="1102.6" r="3.2" fill="#000"/>
<circle cx="1027.9" cy="1108.9" r="3.2" fill="#000"/>
<circle cx="1039.7" cy="1113.1" r="3.2" fill="#000"/>
<circle cx="1051.7" cy="1113.5" r="3.2" fill="#000"/>
<circle cx="1063.7" cy="1113.5" r="3.2" fill="#000"/>
<circle cx="1075.7" cy="1113.5" r="3.2" fill="#000"/>
<circle cx="1088.3" cy="1113.5" r="3.2" fill="#000"/>
<circle cx="1100.9" cy="1113.5" r="3.2" fill="#000"/>
<circle cx="1113.9" cy="1113.5" r="3.2" fill="#000"/>
<circle cx="1126.8" cy="1111.9" r="3.2" fill="#000"/>
<circle cx="1141" cy="1100.2" r="3.2" fill="#000"/>
<circle cx="1155.6" cy="1047.1" r="3.2" fill="#000"/>
<circle cx="1170.3" cy="978.2" r="3.2" fill="#000"/>
<circle cx="1185" cy="878.7" r="3.2" fill="#000"/>
<circle cx="1200.2" cy="762.6" r="3.2" fill="#000"/>
<circle cx="1215.6" cy="674.4" r="3.2" fill="#000"/>
<circle cx="1233" cy="652.6" r="3.2" fill="#000"/>
<circle cx="1250.3" cy="671.8" r="3.2" fill="#000"/>
<circle cx="1268.2" cy="745.3" r="3.2" fill="#000"/>
<circle cx="1286.8" cy="845.8" r="3.2" fill="#000"/>
<circle cx="1305.8" cy="972.7" r="3.2" fill="#000"/>
<circle cx="1326.8" cy="1050.7" r="3.2" fill="#000"/>
<circle cx="1347.6" cy="1093.7" r="3.2" fill="#000"/>
<circle cx="1371.6" cy="1107.6" r="3.2" fill="#000"/>
<circle cx="1395.6" cy="1113.5" r="3.2" fill="#000"/>
<circle cx="1422.8" cy="1113.5" r="3.2" fill="#000"/>
<circle cx="1451.1" cy="1113.5" r="3.2" fill="#000"/>
<circle cx="1483.6" cy="1113.5" r="3.2" fill="#000"/>
<circle cx="857.3" cy="1112.7" r="3.2" fill="#000"/>
<circle cx="867.3" cy="1110.7" r="3.2" fill="#000"/>
<circle cx="875.9" cy="1104.6" r="3.2" fill="#000"/>
<circle cx="885.3" cy="1102.4" r="3.2" fill="#000"/>
<circle cx="893.9" cy="1100.2" r="3.2" fill="#000"/>
<circle cx="903.5" cy="1098.5" r="3.2" fill="#000"/>
<circle cx="913.3" cy="1097.6" r="3.2" fill="#000"/>
<circle cx="923.3" cy="1097.2" r="3.2" fill="#000"/>
<circle cx="932.9" cy="1097.2" r="3.2" fill="#000"/>
<circle cx="942.3" cy="1097.2" r="3.2" fill="#000"/>
<circle cx="953.3" cy="1097.2" r="3.2" fill="#000"/>
<circle cx="963.7" cy="1097.4" r="3.2" fill="#000"/>
<circle cx="973.3" cy="1097.6" r="3.2" fill="#000"/>
<circle cx="983.9" cy="1097.7" r="3.2" fill="#000"/>
<circle cx="994.7" cy="1098.4" r="3.2" fill="#000"/>
<circle cx="1005.3" cy="1100.5" r="3.2" fill="#000"/>
<circle cx="1016.7" cy="1103.7" r="3.2" fill="#000"/>
<circle cx="1027.9" cy="1109.4" r="3.2" fill="#000"/>
<circle cx="1039.7" cy="1113.2" r="3.2" fill="#000"/>
<circle cx="1051.7" cy="1113.5" r="3.2" fill="#000"/>
<circle cx="1063.7" cy="1113.5" r="3.2" fill="#000"/>
<circle cx="1075.7" cy="1113.5" r="3.2" fill="#000"/>
<circle cx="1088.3" cy="1113.5" r="3.2" fill="#000"/>
<circle cx="1100.9" cy="1113.5" r="3.2" fill="#000"/>
<circle cx="1113.9" cy="1113.5" r="3.2" fill="#000"/>
<circle cx="1126.8" cy="1113.5" r="3.2" fill="#000"/>
<circle cx="1141" cy="1107.6" r="3.2" fill="#000"/>
<circle cx="1155.6" cy="1087.2" r="3.2" fill="#000"/>
<circle cx="1170.3" cy="1050.7" r="3.2" fill="#000"/>
<circle cx="1185" cy="985.7" r="3.2" fill="#000"/>
<circle cx="1200.2" cy="917" r="3.2" fill="#000"/>
<circle cx="1215.6" cy="832.8" r="3.2" fill="#000"/>
<circle cx="1233" cy="757" r="3.2" fill="#000"/>
<circle cx="1250.3" cy="716.7" r="3.2" fill="#000"/>
<circle cx="1268.2" cy="708.9" r="3.2" fill="#000"/>
<circle cx="1286.8" cy="745.3" r="3.2" fill="#000"/>
<circle cx="1305.8" cy="807.8" r="3.2" fill="#000"/>
<circle cx="1326.8" cy="889.1" r="3.2" fill="#000"/>
<circle cx="1347.6" cy="978.8" r="3.2" fill="#000"/>
<circle cx="1371.6" cy="1040.3" r="3.2" fill="#000"/>
<circle cx="1395.6" cy="1082.6" r="3.2" fill="#000"/>
<circle cx="1422.8" cy="1109.3" r="3.2" fill="#000"/>
<circle cx="1451.1" cy="1113.5" r="3.2" fill="#000"/>
<circle cx="1483.6" cy="1113.5" r="3.2" fill="#000"/>
<circle cx="857.3" cy="1112.6" r="3.2" fill="#000"/>
<circle cx="867.3" cy="1110.5" r="3.2" fill="#000"/>
<circle cx="875.9" cy="1103.7" r="3.2" fill="#000"/>
<circle cx="885.3" cy="1101.3" r="3.2" fill="#000"/>
<circle cx="893.9" cy="1098.8" r="3.2" fill="#000"/>
<circle cx="903.5" cy="1097" r="3.2" fill="#000"/>
<circle cx="913.3" cy="1096" r="3.2" fill="#000"/>
<circle cx="923.3" cy="1095.6" r="3.2" fill="#000"/>
<circle cx="932.9" cy="1095.6" r="3.2" fill="#000"/>
<circle cx="942.3" cy="1095.6" r="3.2" fill="#000"/>
<circle cx="953.3" cy="1095.6" r="3.2" fill="#000"/>
<circle cx="963.7" cy="1095.8" r="3.2" fill="#000"/>
<circle cx="973.3" cy="1096" r="3.2" fill="#000"/>
<circle cx="983.9" cy="1096.1" r="3.2" fill="#000"/>
<circle cx="994.7" cy="1096.9" r="3.2" fill="#000"/>
<circle cx="1005.3" cy="1099.2" r="3.2" fill="#000"/>
<circle cx="1016.7" cy="1102.8" r="3.2" fill="#000"/>
<circle cx="1027.9" cy="1109" r="3.2" fill="#000"/>
<circle cx="1039.7" cy="1113.1" r="3.2" fill="#000"/>
<circle cx="1051.7" cy="1113.5" r="3.2" fill="#000"/>
<circle cx="1063.7" cy="1113.5" r="3.2" fill="#000"/>
<circle cx="1075.7" cy="1113.5" r="3.2" fill="#000"/>
<circle cx="1088.3" cy="1113.5" r="3.2" fill="#000"/>
<circle cx="1100.9" cy="1113.5" r="3.2" fill="#000"/>
<circle cx="1113.9" cy="1113.5" r="3.2" fill="#000"/>
<circle cx="1126.8" cy="1110.2" r="3.2" fill="#000"/>
<circle cx="1141" cy="1078" r="3.2" fill="#000"/>
<circle cx="1155.6" cy="1022.8" r="3.2" fill="#000"/>
<circle cx="1170.3" cy="962.3" r="3.2" fill="#000"/>
<circle cx="1185" cy="878.7" r="3.2" fill="#000"/>
<circle cx="1200.2" cy="789.6" r="3.2" fill="#000"/>
<circle cx="1215.6" cy="730.4" r="3.2" fill="#000"/>
<circle cx="1233" cy="699.8" r="3.2" fill="#000"/>
<circle cx="1250.3" cy="715.1" r="3.2" fill="#000"/>
<circle cx="1268.2" cy="771" r="3.2" fill="#000"/>
<circle cx="1286.8" cy="844.5" r="3.2" fill="#000"/>
<circle cx="1305.8" cy="940.1" r="3.2" fill="#000"/>
<circle cx="1326.8" cy="1009.1" r="3.2" fill="#000"/>
<circle cx="1347.6" cy="1063.4" r="3.2" fill="#000"/>
<circle cx="1371.6" cy="1107.6" r="3.2" fill="#000"/>
<circle cx="1395.6" cy="1113.5" r="3.2" fill="#000"/>
<circle cx="1422.8" cy="1113.5" r="3.2" fill="#000"/>
<circle cx="1451.1" cy="1113.5" r="3.2" fill="#000"/>
<circle cx="1483.6" cy="1113.5" r="3.2" fill="#000"/>
<path d="M814.3 593.1H1486.4V1147.4H814.3Z" fill="none" stroke="#000" stroke-width="2.5"/>
<path d="M803.3 1113.5H814.3M803.3 1048.5H814.3M803.3 983.4H814.3M803.3 918.4H814.3M803.3 853.3H814.3M803.3 788.2H814.3M803.3 723.2H814.3M803.3 658.2H814.3M803.3 593.1H814.3M814.3 1147.4V1158.9M884.8 1147.4V1158.9M942.7 1147.4V1158.9M1005.5 1147.4V1158.9M1100 1147.4V1158.9M1184.2 1147.4V1158.9M1286.7 1147.4V1158.9M1360 1147.4V1158.9M1481.3 1147.4V1158.9" fill="none" stroke="#000" stroke-width="2.5"/>
<text x="1417" y="636.8" font-family="'Liberation Sans', sans-serif" font-size="28" fill="#000">D</text>
<path d="M153 1715.5C154.7 1715.1 159.9 1714.2 163 1712.9C166.1 1711.6 168.6 1709 171.6 1707.7C174.6 1706.5 178 1706.2 181 1705.5C184 1704.8 186.6 1704.1 189.6 1703.5C192.6 1703 196 1702.5 199.2 1702.2C202.4 1701.9 205.7 1701.9 209 1701.9C212.3 1701.8 215.7 1701.8 219 1701.9C222.3 1701.9 225.4 1702.1 228.6 1702.2C231.8 1702.3 234.6 1702.4 238 1702.5C241.4 1702.6 245.4 1702.7 249 1702.9C252.6 1703 256.1 1703.5 259.4 1703.5C262.7 1703.5 265.6 1703.1 269 1702.9C272.4 1702.6 276 1702.2 279.6 1702.2C283.2 1702.2 286.8 1702.4 290.4 1702.9C294 1703.4 297.3 1704.3 301 1705.1C304.7 1706 308.6 1706.6 312.4 1707.7C316.2 1708.9 319.8 1710.6 323.6 1712C327.4 1713.3 331.4 1715 335.4 1715.9C339.4 1716.8 343.4 1717.2 347.4 1717.5C351.4 1717.8 355.4 1717.5 359.4 1717.5C363.4 1717.5 367.3 1717.5 371.4 1717.5C375.5 1717.5 379.8 1717.5 384 1717.5C388.2 1717.5 392.3 1719.3 396.6 1717.5C400.9 1715.7 405.3 1712.3 409.6 1706.4C413.9 1700.6 418 1691.6 422.5 1682.4C427 1673.1 431.9 1663.4 436.7 1650.8C441.5 1638.3 446.4 1624.6 451.3 1606.9C456.2 1589.3 461.1 1566.1 466 1545.2C470.9 1524.2 475.7 1502.9 480.7 1481.4C485.7 1459.9 490.8 1434.9 495.9 1416.1C501 1397.2 505.8 1378.9 511.3 1368.6C516.8 1358.3 522.9 1354.6 528.7 1354.3C534.5 1353.9 540.1 1357.5 546 1366.3C551.9 1375.1 557.8 1390.9 563.9 1407.3C570 1423.6 576.2 1446.1 582.5 1464.5C588.8 1482.9 594.8 1500 601.5 1517.5C608.2 1535 615.5 1552.5 622.5 1569.5C629.5 1586.6 635.8 1604.1 643.3 1619.9C650.8 1635.8 659.3 1652.5 667.3 1664.8C675.3 1677.2 682.8 1686.4 691.3 1694.1C699.8 1701.8 709.2 1707.3 718.5 1711C727.8 1714.7 736.7 1715.4 746.8 1716.5C756.9 1717.6 773.9 1717.3 779.3 1717.5" fill="none" stroke="#000000" stroke-width="2.1" stroke-linejoin="round"/>
<path d="M153 1715.5C154.7 1715.1 159.9 1714.2 163 1712.9C166.1 1711.6 168.6 1709 171.6 1707.7C174.6 1706.5 178 1706.2 181 1705.5C184 1704.8 186.6 1704.1 189.6 1703.5C192.6 1703 196 1702.5 199.2 1702.2C202.4 1701.9 205.7 1701.9 209 1701.9C212.3 1701.8 215.7 1701.8 219 1701.9C222.3 1701.9 225.4 1702.1 228.6 1702.2C231.8 1702.3 234.6 1702.4 238 1702.5C241.4 1702.6 245.4 1702.7 249 1702.9C252.6 1703 256.1 1703.5 259.4 1703.5C262.7 1703.5 265.6 1703.1 269 1702.9C272.4 1702.6 276 1702.2 279.6 1702.2C283.2 1702.2 286.8 1702.4 290.4 1702.9C294 1703.4 297.3 1704.3 301 1705.1C304.7 1706 308.6 1706.6 312.4 1707.7C316.2 1708.9 319.8 1710.6 323.6 1712C327.4 1713.3 331.4 1715 335.4 1715.9C339.4 1716.8 343.4 1717.2 347.4 1717.5C351.4 1717.8 355.4 1717.5 359.4 1717.5C363.4 1717.5 367.3 1717.5 371.4 1717.5C375.5 1717.5 379.8 1717.5 384 1717.5C388.2 1717.5 392.3 1719.3 396.6 1717.5C400.9 1715.7 405.3 1712.3 409.6 1706.4C413.9 1700.6 418 1691.6 422.5 1682.4C427 1673.1 431.9 1663.1 436.7 1650.8C441.5 1638.6 446.4 1623 451.3 1608.9C456.2 1594.7 461.1 1580.7 466 1566C470.9 1551.3 475.7 1535.3 480.7 1520.8C485.7 1506.2 490.8 1493.3 495.9 1478.5C501 1463.7 505.8 1442.9 511.3 1432C516.8 1421 522.9 1416.4 528.7 1412.8C534.5 1409.2 540.1 1408.9 546 1410.5C551.9 1412.1 557.8 1416.3 563.9 1422.6C570 1428.8 576.2 1437.7 582.5 1447.9C588.8 1458.2 594.8 1470.6 601.5 1484C608.2 1497.4 615.5 1513.9 622.5 1528.2C629.5 1542.6 635.8 1555.5 643.3 1570.2C650.8 1584.9 659.3 1603.4 667.3 1616.4C675.3 1629.3 682.8 1637 691.3 1647.9C699.8 1658.8 709.2 1671.9 718.5 1681.7C727.8 1691.5 736.7 1701 746.8 1706.8C756.9 1712.6 773.9 1714.9 779.3 1716.5" fill="none" stroke="#ee1010" stroke-width="2.1" stroke-linejoin="round"/>
<path d="M153 1715.5C154.7 1715.1 159.9 1714.2 163 1712.9C166.1 1711.6 168.6 1709 171.6 1707.7C174.6 1706.5 178 1706.2 181 1705.5C184 1704.8 186.6 1704.1 189.6 1703.5C192.6 1703 196 1702.5 199.2 1702.2C202.4 1701.9 205.7 1701.9 209 1701.9C212.3 1701.8 215.7 1701.8 219 1701.9C222.3 1701.9 225.4 1702.1 228.6 1702.2C231.8 1702.3 234.6 1702.4 238 1702.5C241.4 1702.6 245.4 1702.7 249 1702.9C252.6 1703 256.1 1703.5 259.4 1703.5C262.7 1703.5 265.6 1703.1 269 1702.9C272.4 1702.6 276 1702.6 279.6 1702.2C283.2 1701.8 286.8 1700.4 290.4 1700.3C294 1700.1 297.3 1701 301 1701.2C304.7 1701.5 308.6 1701.1 312.4 1701.9C316.2 1702.6 319.8 1703.5 323.6 1705.8C327.4 1708.1 331.4 1713.6 335.4 1715.5C339.4 1717.5 343.4 1717.2 347.4 1717.5C351.4 1717.8 355.4 1717.5 359.4 1717.5C363.4 1717.5 367.3 1717.5 371.4 1717.5C375.5 1717.5 379.8 1717.5 384 1717.5C388.2 1717.5 392.3 1717.5 396.6 1717.5C400.9 1717.5 405.3 1717.7 409.6 1717.5C413.9 1717.3 418 1717.3 422.5 1716.2C427 1715.1 431.9 1714.8 436.7 1711C441.5 1707.1 446.4 1701.9 451.3 1693.1C456.2 1684.3 461.1 1672.1 466 1658C470.9 1643.9 475.7 1627.5 480.7 1608.6C485.7 1589.6 490.8 1566.6 495.9 1544.2C501 1521.8 505.8 1496.7 511.3 1474.3C516.8 1451.8 522.9 1428.2 528.7 1409.5C534.5 1390.9 540.1 1373.5 546 1362.4C551.9 1351.3 557.8 1344.5 563.9 1343.2C570 1342 576.2 1346.1 582.5 1354.9C588.8 1363.7 594.8 1378.8 601.5 1395.9C608.2 1413 615.5 1435.7 622.5 1457.7C629.5 1479.6 635.8 1504.8 643.3 1527.6C650.8 1550.4 659.3 1574.2 667.3 1594.3C675.3 1614.3 682.8 1632.6 691.3 1647.9C699.8 1663.2 709.2 1676.1 718.5 1686C727.8 1695.8 736.7 1701.7 746.8 1706.8C756.9 1711.9 773.9 1714.9 779.3 1716.5" fill="none" stroke="#18e818" stroke-width="2.1" stroke-linejoin="round"/>
<path d="M153 1715.5C154.7 1715.1 159.9 1714.2 163 1712.9C166.1 1711.6 168.6 1709 171.6 1707.7C174.6 1706.5 178 1706.2 181 1705.5C184 1704.8 186.6 1704.1 189.6 1703.5C192.6 1703 196 1702.5 199.2 1702.2C202.4 1701.9 205.7 1701.9 209 1701.9C212.3 1701.8 215.7 1701.8 219 1701.9C222.3 1701.9 225.4 1702.1 228.6 1702.2C231.8 1702.3 234.6 1702.4 238 1702.5C241.4 1702.6 245.4 1702.7 249 1702.9C252.6 1703 256.1 1703.5 259.4 1703.5C262.7 1703.5 265.6 1703.1 269 1702.9C272.4 1702.6 276 1702.2 279.6 1702.2C283.2 1702.2 286.8 1702.4 290.4 1702.9C294 1703.4 297.3 1704.3 301 1705.1C304.7 1706 308.6 1706.6 312.4 1707.7C316.2 1708.9 319.8 1710.6 323.6 1712C327.4 1713.3 331.4 1715 335.4 1715.9C339.4 1716.8 343.4 1717.2 347.4 1717.5C351.4 1717.8 355.4 1717.5 359.4 1717.5C363.4 1717.5 367.3 1717.5 371.4 1717.5C375.5 1717.5 379.8 1717.5 384 1717.5C388.2 1717.5 392.3 1718.5 396.6 1717.5C400.9 1716.5 405.3 1715.5 409.6 1711.6C413.9 1707.8 418 1702.3 422.5 1694.4C427 1686.6 431.9 1676.1 436.7 1664.5C441.5 1652.9 446.4 1639.9 451.3 1624.8C456.2 1609.8 461.1 1591.4 466 1574.1C470.9 1556.8 475.7 1538.5 480.7 1521.1C485.7 1503.7 490.8 1485.2 495.9 1469.7C501 1454.2 505.8 1439.7 511.3 1428.1C516.8 1416.5 522.9 1406.1 528.7 1400.1C534.5 1394.2 540.1 1391.4 546 1392.3C551.9 1393.2 557.8 1398.5 563.9 1405.6C570 1412.8 576.2 1423 582.5 1435.2C588.8 1447.5 594.8 1464 601.5 1479.1C608.2 1494.3 615.5 1509.5 622.5 1526.3C629.5 1543.1 635.8 1563.3 643.3 1579.9C650.8 1596.6 659.3 1612.3 667.3 1626.4C675.3 1640.6 682.8 1654.1 691.3 1664.8C699.8 1675.6 709.2 1683.1 718.5 1690.8C727.8 1698.5 736.7 1706.7 746.8 1711C756.9 1715.3 773.9 1715.6 779.3 1716.5" fill="none" stroke="#f4f018" stroke-width="2.1" stroke-linejoin="round"/>
<rect x="151.4" y="1713.9" width="3.2" height="3.2" fill="#000"/>
<rect x="161.4" y="1711.3" width="3.2" height="3.2" fill="#000"/>
<rect x="170" y="1706.1" width="3.2" height="3.2" fill="#000"/>
<rect x="179.4" y="1703.9" width="3.2" height="3.2" fill="#000"/>
<rect x="188" y="1701.9" width="3.2" height="3.2" fill="#000"/>
<rect x="197.6" y="1700.6" width="3.2" height="3.2" fill="#000"/>
<rect x="207.4" y="1700.3" width="3.2" height="3.2" fill="#000"/>
<rect x="217.4" y="1700.3" width="3.2" height="3.2" fill="#000"/>
<rect x="227" y="1700.6" width="3.2" height="3.2" fill="#000"/>
<rect x="236.4" y="1700.9" width="3.2" height="3.2" fill="#000"/>
<rect x="247.4" y="1701.3" width="3.2" height="3.2" fill="#000"/>
<rect x="257.8" y="1701.9" width="3.2" height="3.2" fill="#000"/>
<rect x="267.4" y="1701.3" width="3.2" height="3.2" fill="#000"/>
<rect x="278" y="1700.6" width="3.2" height="3.2" fill="#000"/>
<rect x="288.8" y="1701.3" width="3.2" height="3.2" fill="#000"/>
<rect x="299.4" y="1703.5" width="3.2" height="3.2" fill="#000"/>
<rect x="310.8" y="1706.1" width="3.2" height="3.2" fill="#000"/>
<rect x="322" y="1710.4" width="3.2" height="3.2" fill="#000"/>
<rect x="333.8" y="1714.3" width="3.2" height="3.2" fill="#000"/>
<rect x="345.8" y="1715.9" width="3.2" height="3.2" fill="#000"/>
<rect x="357.8" y="1715.9" width="3.2" height="3.2" fill="#000"/>
<rect x="369.8" y="1715.9" width="3.2" height="3.2" fill="#000"/>
<rect x="382.4" y="1715.9" width="3.2" height="3.2" fill="#000"/>
<rect x="395" y="1715.9" width="3.2" height="3.2" fill="#000"/>
<rect x="408" y="1704.8" width="3.2" height="3.2" fill="#000"/>
<rect x="420.9" y="1680.8" width="3.2" height="3.2" fill="#000"/>
<rect x="435.1" y="1649.2" width="3.2" height="3.2" fill="#000"/>
<rect x="449.7" y="1605.3" width="3.2" height="3.2" fill="#000"/>
<rect x="464.4" y="1543.6" width="3.2" height="3.2" fill="#000"/>
<rect x="479.1" y="1479.8" width="3.2" height="3.2" fill="#000"/>
<rect x="494.3" y="1414.5" width="3.2" height="3.2" fill="#000"/>
<rect x="509.7" y="1367" width="3.2" height="3.2" fill="#000"/>
<rect x="527.1" y="1352.7" width="3.2" height="3.2" fill="#000"/>
<rect x="544.4" y="1364.7" width="3.2" height="3.2" fill="#000"/>
<rect x="562.3" y="1405.7" width="3.2" height="3.2" fill="#000"/>
<rect x="580.9" y="1462.9" width="3.2" height="3.2" fill="#000"/>
<rect x="599.9" y="1515.9" width="3.2" height="3.2" fill="#000"/>
<rect x="620.9" y="1567.9" width="3.2" height="3.2" fill="#000"/>
<rect x="641.7" y="1618.3" width="3.2" height="3.2" fill="#000"/>
<rect x="665.7" y="1663.2" width="3.2" height="3.2" fill="#000"/>
<rect x="689.7" y="1692.5" width="3.2" height="3.2" fill="#000"/>
<rect x="716.9" y="1709.4" width="3.2" height="3.2" fill="#000"/>
<rect x="745.2" y="1714.9" width="3.2" height="3.2" fill="#000"/>
<rect x="777.7" y="1715.9" width="3.2" height="3.2" fill="#000"/>
<rect x="151.4" y="1713.9" width="3.2" height="3.2" fill="#000"/>
<rect x="161.4" y="1711.3" width="3.2" height="3.2" fill="#000"/>
<rect x="170" y="1706.1" width="3.2" height="3.2" fill="#000"/>
<rect x="179.4" y="1703.9" width="3.2" height="3.2" fill="#000"/>
<rect x="188" y="1701.9" width="3.2" height="3.2" fill="#000"/>
<rect x="197.6" y="1700.6" width="3.2" height="3.2" fill="#000"/>
<rect x="207.4" y="1700.3" width="3.2" height="3.2" fill="#000"/>
<rect x="217.4" y="1700.3" width="3.2" height="3.2" fill="#000"/>
<rect x="227" y="1700.6" width="3.2" height="3.2" fill="#000"/>
<rect x="236.4" y="1700.9" width="3.2" height="3.2" fill="#000"/>
<rect x="247.4" y="1701.3" width="3.2" height="3.2" fill="#000"/>
<rect x="257.8" y="1701.9" width="3.2" height="3.2" fill="#000"/>
<rect x="267.4" y="1701.3" width="3.2" height="3.2" fill="#000"/>
<rect x="278" y="1700.6" width="3.2" height="3.2" fill="#000"/>
<rect x="288.8" y="1701.3" width="3.2" height="3.2" fill="#000"/>
<rect x="299.4" y="1703.5" width="3.2" height="3.2" fill="#000"/>
<rect x="310.8" y="1706.1" width="3.2" height="3.2" fill="#000"/>
<rect x="322" y="1710.4" width="3.2" height="3.2" fill="#000"/>
<rect x="333.8" y="1714.3" width="3.2" height="3.2" fill="#000"/>
<rect x="345.8" y="1715.9" width="3.2" height="3.2" fill="#000"/>
<rect x="357.8" y="1715.9" width="3.2" height="3.2" fill="#000"/>
<rect x="369.8" y="1715.9" width="3.2" height="3.2" fill="#000"/>
<rect x="382.4" y="1715.9" width="3.2" height="3.2" fill="#000"/>
<rect x="395" y="1715.9" width="3.2" height="3.2" fill="#000"/>
<rect x="408" y="1704.8" width="3.2" height="3.2" fill="#000"/>
<rect x="420.9" y="1680.8" width="3.2" height="3.2" fill="#000"/>
<rect x="435.1" y="1649.2" width="3.2" height="3.2" fill="#000"/>
<rect x="449.7" y="1607.3" width="3.2" height="3.2" fill="#000"/>
<rect x="464.4" y="1564.4" width="3.2" height="3.2" fill="#000"/>
<rect x="479.1" y="1519.2" width="3.2" height="3.2" fill="#000"/>
<rect x="494.3" y="1476.9" width="3.2" height="3.2" fill="#000"/>
<rect x="509.7" y="1430.4" width="3.2" height="3.2" fill="#000"/>
<rect x="527.1" y="1411.2" width="3.2" height="3.2" fill="#000"/>
<rect x="544.4" y="1408.9" width="3.2" height="3.2" fill="#000"/>
<rect x="562.3" y="1421" width="3.2" height="3.2" fill="#000"/>
<rect x="580.9" y="1446.3" width="3.2" height="3.2" fill="#000"/>
<rect x="599.9" y="1482.4" width="3.2" height="3.2" fill="#000"/>
<rect x="620.9" y="1526.6" width="3.2" height="3.2" fill="#000"/>
<rect x="641.7" y="1568.6" width="3.2" height="3.2" fill="#000"/>
<rect x="665.7" y="1614.8" width="3.2" height="3.2" fill="#000"/>
<rect x="689.7" y="1646.3" width="3.2" height="3.2" fill="#000"/>
<rect x="716.9" y="1680.1" width="3.2" height="3.2" fill="#000"/>
<rect x="745.2" y="1705.2" width="3.2" height="3.2" fill="#000"/>
<rect x="777.7" y="1714.9" width="3.2" height="3.2" fill="#000"/>
<rect x="151.4" y="1713.9" width="3.2" height="3.2" fill="#000"/>
<rect x="161.4" y="1711.3" width="3.2" height="3.2" fill="#000"/>
<rect x="170" y="1706.1" width="3.2" height="3.2" fill="#000"/>
<rect x="179.4" y="1703.9" width="3.2" height="3.2" fill="#000"/>
<rect x="188" y="1701.9" width="3.2" height="3.2" fill="#000"/>
<rect x="197.6" y="1700.6" width="3.2" height="3.2" fill="#000"/>
<rect x="207.4" y="1700.3" width="3.2" height="3.2" fill="#000"/>
<rect x="217.4" y="1700.3" width="3.2" height="3.2" fill="#000"/>
<rect x="227" y="1700.6" width="3.2" height="3.2" fill="#000"/>
<rect x="236.4" y="1700.9" width="3.2" height="3.2" fill="#000"/>
<rect x="247.4" y="1701.3" width="3.2" height="3.2" fill="#000"/>
<rect x="257.8" y="1701.9" width="3.2" height="3.2" fill="#000"/>
<rect x="267.4" y="1701.3" width="3.2" height="3.2" fill="#000"/>
<rect x="278" y="1700.6" width="3.2" height="3.2" fill="#000"/>
<rect x="288.8" y="1698.7" width="3.2" height="3.2" fill="#000"/>
<rect x="299.4" y="1699.6" width="3.2" height="3.2" fill="#000"/>
<rect x="310.8" y="1700.3" width="3.2" height="3.2" fill="#000"/>
<rect x="322" y="1704.2" width="3.2" height="3.2" fill="#000"/>
<rect x="333.8" y="1713.9" width="3.2" height="3.2" fill="#000"/>
<rect x="345.8" y="1715.9" width="3.2" height="3.2" fill="#000"/>
<rect x="357.8" y="1715.9" width="3.2" height="3.2" fill="#000"/>
<rect x="369.8" y="1715.9" width="3.2" height="3.2" fill="#000"/>
<rect x="382.4" y="1715.9" width="3.2" height="3.2" fill="#000"/>
<rect x="395" y="1715.9" width="3.2" height="3.2" fill="#000"/>
<rect x="408" y="1715.9" width="3.2" height="3.2" fill="#000"/>
<rect x="420.9" y="1714.6" width="3.2" height="3.2" fill="#000"/>
<rect x="435.1" y="1709.4" width="3.2" height="3.2" fill="#000"/>
<rect x="449.7" y="1691.5" width="3.2" height="3.2" fill="#000"/>
<rect x="464.4" y="1656.4" width="3.2" height="3.2" fill="#000"/>
<rect x="479.1" y="1607" width="3.2" height="3.2" fill="#000"/>
<rect x="494.3" y="1542.6" width="3.2" height="3.2" fill="#000"/>
<rect x="509.7" y="1472.7" width="3.2" height="3.2" fill="#000"/>
<rect x="527.1" y="1407.9" width="3.2" height="3.2" fill="#000"/>
<rect x="544.4" y="1360.8" width="3.2" height="3.2" fill="#000"/>
<rect x="562.3" y="1341.6" width="3.2" height="3.2" fill="#000"/>
<rect x="580.9" y="1353.3" width="3.2" height="3.2" fill="#000"/>
<rect x="599.9" y="1394.3" width="3.2" height="3.2" fill="#000"/>
<rect x="620.9" y="1456.1" width="3.2" height="3.2" fill="#000"/>
<rect x="641.7" y="1526" width="3.2" height="3.2" fill="#000"/>
<rect x="665.7" y="1592.7" width="3.2" height="3.2" fill="#000"/>
<rect x="689.7" y="1646.3" width="3.2" height="3.2" fill="#000"/>
<rect x="716.9" y="1684.4" width="3.2" height="3.2" fill="#000"/>
<rect x="745.2" y="1705.2" width="3.2" height="3.2" fill="#000"/>
<rect x="777.7" y="1714.9" width="3.2" height="3.2" fill="#000"/>
<rect x="151.4" y="1713.9" width="3.2" height="3.2" fill="#000"/>
<rect x="161.4" y="1711.3" width="3.2" height="3.2" fill="#000"/>
<rect x="170" y="1706.1" width="3.2" height="3.2" fill="#000"/>
<rect x="179.4" y="1703.9" width="3.2" height="3.2" fill="#000"/>
<rect x="188" y="1701.9" width="3.2" height="3.2" fill="#000"/>
<rect x="197.6" y="1700.6" width="3.2" height="3.2" fill="#000"/>
<rect x="207.4" y="1700.3" width="3.2" height="3.2" fill="#000"/>
<rect x="217.4" y="1700.3" width="3.2" height="3.2" fill="#000"/>
<rect x="227" y="1700.6" width="3.2" height="3.2" fill="#000"/>
<rect x="236.4" y="1700.9" width="3.2" height="3.2" fill="#000"/>
<rect x="247.4" y="1701.3" width="3.2" height="3.2" fill="#000"/>
<rect x="257.8" y="1701.9" width="3.2" height="3.2" fill="#000"/>
<rect x="267.4" y="1701.3" width="3.2" height="3.2" fill="#000"/>
<rect x="278" y="1700.6" width="3.2" height="3.2" fill="#000"/>
<rect x="288.8" y="1701.3" width="3.2" height="3.2" fill="#000"/>
<rect x="299.4" y="1703.5" width="3.2" height="3.2" fill="#000"/>
<rect x="310.8" y="1706.1" width="3.2" height="3.2" fill="#000"/>
<rect x="322" y="1710.4" width="3.2" height="3.2" fill="#000"/>
<rect x="333.8" y="1714.3" width="3.2" height="3.2" fill="#000"/>
<rect x="345.8" y="1715.9" width="3.2" height="3.2" fill="#000"/>
<rect x="357.8" y="1715.9" width="3.2" height="3.2" fill="#000"/>
<rect x="369.8" y="1715.9" width="3.2" height="3.2" fill="#000"/>
<rect x="382.4" y="1715.9" width="3.2" height="3.2" fill="#000"/>
<rect x="395" y="1715.9" width="3.2" height="3.2" fill="#000"/>
<rect x="408" y="1710" width="3.2" height="3.2" fill="#000"/>
<rect x="420.9" y="1692.8" width="3.2" height="3.2" fill="#000"/>
<rect x="435.1" y="1662.9" width="3.2" height="3.2" fill="#000"/>
<rect x="449.7" y="1623.2" width="3.2" height="3.2" fill="#000"/>
<rect x="464.4" y="1572.5" width="3.2" height="3.2" fill="#000"/>
<rect x="479.1" y="1519.5" width="3.2" height="3.2" fill="#000"/>
<rect x="494.3" y="1468.1" width="3.2" height="3.2" fill="#000"/>
<rect x="509.7" y="1426.5" width="3.2" height="3.2" fill="#000"/>
<rect x="527.1" y="1398.5" width="3.2" height="3.2" fill="#000"/>
<rect x="544.4" y="1390.7" width="3.2" height="3.2" fill="#000"/>
<rect x="562.3" y="1404" width="3.2" height="3.2" fill="#000"/>
<rect x="580.9" y="1433.6" width="3.2" height="3.2" fill="#000"/>
<rect x="599.9" y="1477.5" width="3.2" height="3.2" fill="#000"/>
<rect x="620.9" y="1524.7" width="3.2" height="3.2" fill="#000"/>
<rect x="641.7" y="1578.3" width="3.2" height="3.2" fill="#000"/>
<rect x="665.7" y="1624.8" width="3.2" height="3.2" fill="#000"/>
<rect x="689.7" y="1663.2" width="3.2" height="3.2" fill="#000"/>
<rect x="716.9" y="1689.2" width="3.2" height="3.2" fill="#000"/>
<rect x="745.2" y="1709.4" width="3.2" height="3.2" fill="#000"/>
<rect x="777.7" y="1714.9" width="3.2" height="3.2" fill="#000"/>
<path d="M110 1197.2H783.5V1750H110Z" fill="none" stroke="#000" stroke-width="2.5"/>
<path d="M99 1717.5H110M99 1652.5H110M99 1587.4H110M99 1522.4H110M99 1457.3H110M99 1392.3H110M99 1327.3H110M99 1262.2H110M99 1197.2H110M110 1750V1761.5M180.5 1750V1761.5M238.4 1750V1761.5M301.2 1750V1761.5M395.7 1750V1761.5M479.9 1750V1761.5M582.4 1750V1761.5M655.7 1750V1761.5M777 1750V1761.5" fill="none" stroke="#000" stroke-width="2.5"/>
<text x="87.4" y="1726" font-family="'Liberation Serif', serif" font-size="29" text-anchor="end" fill="#000">0</text>
<text x="87.4" y="1661" font-family="'Liberation Serif', serif" font-size="29" text-anchor="end" fill="#000">2</text>
<text x="87.4" y="1595.9" font-family="'Liberation Serif', serif" font-size="29" text-anchor="end" fill="#000">4</text>
<text x="87.4" y="1530.9" font-family="'Liberation Serif', serif" font-size="29" text-anchor="end" fill="#000">6</text>
<text x="87.4" y="1465.8" font-family="'Liberation Serif', serif" font-size="29" text-anchor="end" fill="#000">8</text>
<text x="87.4" y="1400.8" font-family="'Liberation Serif', serif" font-size="29" text-anchor="end" fill="#000">10</text>
<text x="87.4" y="1335.8" font-family="'Liberation Serif', serif" font-size="29" text-anchor="end" fill="#000">12</text>
<text x="87.4" y="1270.7" font-family="'Liberation Serif', serif" font-size="29" text-anchor="end" fill="#000">14</text>
<text x="87.4" y="1205.7" font-family="'Liberation Serif', serif" font-size="29" text-anchor="end" fill="#000">16</text>
<text x="110" y="1800.5" font-family="'Liberation Serif', serif" font-size="29" text-anchor="middle" fill="#000">.2</text>
<text x="180.5" y="1800.5" font-family="'Liberation Serif', serif" font-size="29" text-anchor="middle" fill="#000">.5</text>
<text x="238.4" y="1800.5" font-family="'Liberation Serif', serif" font-size="29" text-anchor="middle" fill="#000">1</text>
<text x="301.2" y="1800.5" font-family="'Liberation Serif', serif" font-size="29" text-anchor="middle" fill="#000">2</text>
<text x="395.7" y="1800.5" font-family="'Liberation Serif', serif" font-size="29" text-anchor="middle" fill="#000">5</text>
<text x="479.9" y="1800.5" font-family="'Liberation Serif', serif" font-size="29" text-anchor="middle" fill="#000">10</text>
<text x="582.4" y="1800.5" font-family="'Liberation Serif', serif" font-size="29" text-anchor="middle" fill="#000">20</text>
<text x="655.7" y="1800.5" font-family="'Liberation Serif', serif" font-size="29" text-anchor="middle" fill="#000">30</text>
<text x="777" y="1800.5" font-family="'Liberation Serif', serif" font-size="29" text-anchor="middle" fill="#000">50</text>
<text x="714.9" y="1240.8" font-family="'Liberation Sans', sans-serif" font-size="28" fill="#000">E</text>
<path d="M857.3 1716.7C859 1716.5 864.2 1716.2 867.3 1715C870.4 1713.9 872.9 1711.1 875.9 1709.8C878.9 1708.6 882.3 1708.4 885.3 1707.6C888.3 1706.8 890.9 1705.6 893.9 1704.8C896.9 1704.1 900.3 1703.6 903.5 1703.1C906.7 1702.7 910 1702.4 913.3 1702.1C916.6 1701.8 920 1701.4 923.3 1701.2C926.6 1701 929.7 1700.8 932.9 1700.7C936.1 1700.6 938.9 1700.4 942.3 1700.4C945.7 1700.3 949.7 1700.4 953.3 1700.4C956.9 1700.4 960.4 1700.4 963.7 1700.4C967 1700.4 969.9 1700.2 973.3 1700.4C976.7 1700.5 980.3 1700.8 983.9 1701.2C987.5 1701.6 991.1 1702.1 994.7 1702.8C998.3 1703.5 1001.6 1704.4 1005.3 1705.5C1009 1706.7 1012.9 1708.2 1016.7 1709.8C1020.5 1711.5 1024.1 1714.1 1027.9 1715.4C1031.7 1716.6 1035.7 1716.9 1039.7 1717.3C1043.7 1717.6 1047.7 1717.5 1051.7 1717.6C1055.7 1717.7 1059.7 1717.6 1063.7 1717.6C1067.7 1717.6 1071.6 1717.6 1075.7 1717.6C1079.8 1717.6 1084.1 1717.6 1088.3 1717.6C1092.5 1717.6 1096.6 1717.6 1100.9 1717.6C1105.2 1717.6 1109.6 1718.4 1113.9 1717.6C1118.2 1716.8 1122.3 1714.9 1126.8 1712.7C1131.3 1710.6 1136.2 1713.3 1141 1704.6C1145.8 1695.9 1150.7 1678.8 1155.6 1660.3C1160.5 1641.9 1165.4 1618 1170.3 1594C1175.2 1569.9 1180 1547.3 1185 1515.9C1190 1484.5 1195.1 1438.5 1200.2 1405.6C1205.3 1372.6 1210.1 1342.1 1215.6 1318C1221.1 1294 1227.2 1269.9 1233 1261.1C1238.8 1252.3 1244.4 1255.3 1250.3 1265.3C1256.2 1275.4 1262.1 1296.9 1268.2 1321.3C1274.3 1345.7 1280.5 1375.6 1286.8 1411.7C1293.1 1447.9 1299.1 1503.6 1305.8 1538C1312.5 1572.4 1319.8 1595.1 1326.8 1618.4C1333.8 1641.6 1340.1 1661.6 1347.6 1677.6C1355.1 1693.6 1363.6 1707.7 1371.6 1714.3C1379.6 1721 1387.1 1717.1 1395.6 1717.6C1404.1 1718.1 1413.5 1717.6 1422.8 1717.6C1432 1717.6 1441 1717.6 1451.1 1717.6C1461.2 1717.6 1478.2 1717.6 1483.6 1717.6" fill="none" stroke="#000000" stroke-width="2.1" stroke-linejoin="round"/>
<path d="M857.3 1716.7C859 1716.4 864.2 1716.1 867.3 1714.9C870.4 1713.7 872.9 1710.8 875.9 1709.5C878.9 1708.3 882.3 1708.1 885.3 1707.2C888.3 1706.4 890.9 1705.1 893.9 1704.4C896.9 1703.6 900.3 1703 903.5 1702.6C906.7 1702.1 910 1701.8 913.3 1701.5C916.6 1701.2 920 1700.8 923.3 1700.6C926.6 1700.4 929.7 1700.2 932.9 1700.1C936.1 1699.9 938.9 1699.8 942.3 1699.7C945.7 1699.6 949.7 1699.7 953.3 1699.7C956.9 1699.7 960.4 1699.7 963.7 1699.7C967 1699.7 969.9 1699.6 973.3 1699.7C976.7 1699.9 980.3 1700.2 983.9 1700.6C987.5 1701 991.1 1701.5 994.7 1702.2C998.3 1703 1001.6 1703.9 1005.3 1705.1C1009 1706.3 1012.9 1707.8 1016.7 1709.5C1020.5 1711.2 1024.1 1714 1027.9 1715.3C1031.7 1716.6 1035.7 1716.9 1039.7 1717.2C1043.7 1717.6 1047.7 1717.5 1051.7 1717.6C1055.7 1717.7 1059.7 1717.6 1063.7 1717.6C1067.7 1717.6 1071.6 1717.6 1075.7 1717.6C1079.8 1717.6 1084.1 1717.6 1088.3 1717.6C1092.5 1717.6 1096.6 1717.6 1100.9 1717.6C1105.2 1717.6 1109.6 1718.7 1113.9 1717.6C1118.2 1716.5 1122.3 1713.7 1126.8 1711.1C1131.3 1708.4 1136.2 1711.4 1141 1701.7C1145.8 1691.9 1150.7 1672 1155.6 1652.5C1160.5 1633 1165.4 1609.2 1170.3 1584.5C1175.2 1559.8 1180 1528.4 1185 1504.5C1190 1480.5 1195.1 1462.2 1200.2 1440.7C1205.3 1419.2 1210.1 1395.8 1215.6 1375.3C1221.1 1354.8 1227.2 1331.3 1233 1317.7C1238.8 1304.2 1244.4 1290.2 1250.3 1294C1256.2 1297.7 1262.1 1322.2 1268.2 1340.2C1274.3 1358.1 1280.5 1375.4 1286.8 1401.7C1293.1 1427.9 1299.1 1465.6 1305.8 1497.6C1312.5 1529.7 1319.8 1567.4 1326.8 1594C1333.8 1620.5 1340.1 1638.8 1347.6 1656.8C1355.1 1674.7 1363.6 1691.6 1371.6 1701.7C1379.6 1711.7 1387.1 1714.3 1395.6 1716.9C1404.1 1719.6 1413.5 1717.5 1422.8 1717.6C1432 1717.7 1441 1717.6 1451.1 1717.6C1461.2 1717.6 1478.2 1717.6 1483.6 1717.6" fill="none" stroke="#ee1010" stroke-width="2.1" stroke-linejoin="round"/>
<path d="M857.3 1716.8C859 1716.5 864.2 1716.2 867.3 1715.1C870.4 1713.9 872.9 1711.2 875.9 1710C878.9 1708.8 882.3 1708.6 885.3 1707.8C888.3 1707 890.9 1705.8 893.9 1705.1C896.9 1704.3 900.3 1703.8 903.5 1703.4C906.7 1702.9 910 1702.7 913.3 1702.4C916.6 1702.1 920 1701.8 923.3 1701.5C926.6 1701.3 929.7 1701.2 932.9 1701C936.1 1700.9 938.9 1700.7 942.3 1700.7C945.7 1700.6 949.7 1700.7 953.3 1700.7C956.9 1700.7 960.4 1700.7 963.7 1700.7C967 1700.7 969.9 1700.5 973.3 1700.7C976.7 1700.8 980.3 1701.1 983.9 1701.5C987.5 1701.9 991.1 1702.3 994.7 1703C998.3 1703.8 1001.6 1704.6 1005.3 1705.8C1009 1706.9 1012.9 1708.4 1016.7 1710C1020.5 1711.6 1024.1 1714.2 1027.9 1715.4C1031.7 1716.6 1035.7 1716.9 1039.7 1717.3C1043.7 1717.6 1047.7 1717.5 1051.7 1717.6C1055.7 1717.7 1059.7 1717.6 1063.7 1717.6C1067.7 1717.6 1071.6 1717.6 1075.7 1717.6C1079.8 1717.6 1084.1 1717.6 1088.3 1717.6C1092.5 1717.6 1096.6 1717.6 1100.9 1717.6C1105.2 1717.6 1109.6 1717.6 1113.9 1717.6C1118.2 1717.6 1122.3 1717.9 1126.8 1717.6C1131.3 1717.3 1136.2 1716.9 1141 1716C1145.8 1715 1150.7 1715.1 1155.6 1711.7C1160.5 1708.4 1165.4 1705.9 1170.3 1696.1C1175.2 1686.4 1180 1668.6 1185 1653.2C1190 1637.8 1195.1 1624.8 1200.2 1603.7C1205.3 1582.6 1210.1 1553.9 1215.6 1526.6C1221.1 1499.3 1227.2 1466.1 1233 1440.1C1238.8 1414 1244.4 1390.3 1250.3 1370.4C1256.2 1350.6 1262.1 1330.1 1268.2 1321C1274.3 1311.9 1280.5 1310.5 1286.8 1315.8C1293.1 1321 1299.1 1336.3 1305.8 1352.5C1312.5 1368.8 1319.8 1391.6 1326.8 1413.4C1333.8 1435.1 1340.1 1458.9 1347.6 1483C1355.1 1507.1 1363.6 1533.9 1371.6 1557.8C1379.6 1581.8 1387.1 1606.7 1395.6 1626.8C1404.1 1646.9 1413.5 1664.8 1422.8 1678.6C1432 1692.3 1441 1702.7 1451.1 1709.1C1461.2 1715.5 1478.2 1715.6 1483.6 1716.9" fill="none" stroke="#18e818" stroke-width="2.1" stroke-linejoin="round"/>
<path d="M857.3 1716.6C859 1716.2 864.2 1715 867.3 1714.3C870.4 1713.7 872.9 1713.1 875.9 1712.7C878.9 1712.3 882.3 1712.2 885.3 1712.1C888.3 1712 890.9 1712.1 893.9 1712.1C896.9 1712.1 900.3 1712.1 903.5 1712.1C906.7 1712.1 910 1712.1 913.3 1712.1C916.6 1712.1 920 1712.1 923.3 1712.1C926.6 1712.1 929.7 1712.1 932.9 1712.1C936.1 1712.1 938.9 1712.1 942.3 1712.1C945.7 1712.1 949.7 1712.1 953.3 1712.1C956.9 1712.1 960.4 1712.1 963.7 1712.1C967 1712.1 969.9 1712.1 973.3 1712.1C976.7 1712.1 980.3 1712.1 983.9 1712.1C987.5 1712.1 991.1 1712.1 994.7 1712.1C998.3 1712.1 1001.6 1712 1005.3 1712.1C1009 1712.2 1012.9 1712.1 1016.7 1712.7C1020.5 1713.4 1024.1 1715.2 1027.9 1716C1031.7 1716.8 1035.7 1717.3 1039.7 1717.6C1043.7 1717.9 1047.7 1717.6 1051.7 1717.6C1055.7 1717.6 1059.7 1717.6 1063.7 1717.6C1067.7 1717.6 1071.6 1717.6 1075.7 1717.6C1079.8 1717.6 1084.1 1717.6 1088.3 1717.6C1092.5 1717.6 1096.6 1717.6 1100.9 1717.6C1105.2 1717.6 1109.6 1719.1 1113.9 1717.6C1118.2 1716.1 1122.3 1714.6 1126.8 1708.8C1131.3 1703.1 1136.2 1693.6 1141 1683.1C1145.8 1672.6 1150.7 1660.9 1155.6 1646C1160.5 1631.2 1165.4 1613.2 1170.3 1594C1175.2 1574.8 1180 1553.2 1185 1530.8C1190 1508.5 1195.1 1482.6 1200.2 1459.9C1205.3 1437.2 1210.1 1413.8 1215.6 1394.5C1221.1 1375.2 1227.2 1355.9 1233 1344.1C1238.8 1332.2 1244.4 1324.2 1250.3 1323.2C1256.2 1322.3 1262.1 1327.6 1268.2 1338.5C1274.3 1349.5 1280.5 1370.8 1286.8 1389C1293.1 1407.1 1299.1 1426.4 1305.8 1447.5C1312.5 1468.7 1319.8 1493.4 1326.8 1515.9C1333.8 1538.3 1340.1 1560 1347.6 1582.2C1355.1 1604.5 1363.6 1629.9 1371.6 1649.3C1379.6 1668.6 1387.1 1687.4 1395.6 1698.4C1404.1 1709.4 1413.5 1712.1 1422.8 1715.3C1432 1718.5 1441 1717.2 1451.1 1717.6C1461.2 1718 1478.2 1717.6 1483.6 1717.6" fill="none" stroke="#f4f018" stroke-width="2.1" stroke-linejoin="round"/>
<rect x="854.8" y="1714.2" width="5" height="5" fill="#000"/>
<rect x="864.8" y="1712.5" width="5" height="5" fill="#000"/>
<rect x="873.4" y="1707.3" width="5" height="5" fill="#000"/>
<rect x="882.8" y="1705.1" width="5" height="5" fill="#000"/>
<rect x="891.4" y="1702.3" width="5" height="5" fill="#000"/>
<rect x="901" y="1700.6" width="5" height="5" fill="#000"/>
<rect x="910.8" y="1699.6" width="5" height="5" fill="#000"/>
<rect x="920.8" y="1698.7" width="5" height="5" fill="#000"/>
<rect x="930.4" y="1698.2" width="5" height="5" fill="#000"/>
<rect x="939.8" y="1697.9" width="5" height="5" fill="#000"/>
<rect x="950.8" y="1697.9" width="5" height="5" fill="#000"/>
<rect x="961.2" y="1697.9" width="5" height="5" fill="#000"/>
<rect x="970.8" y="1697.9" width="5" height="5" fill="#000"/>
<rect x="981.4" y="1698.7" width="5" height="5" fill="#000"/>
<rect x="992.2" y="1700.3" width="5" height="5" fill="#000"/>
<rect x="1002.8" y="1703" width="5" height="5" fill="#000"/>
<rect x="1014.2" y="1707.3" width="5" height="5" fill="#000"/>
<rect x="1025.4" y="1712.9" width="5" height="5" fill="#000"/>
<rect x="1037.2" y="1714.8" width="5" height="5" fill="#000"/>
<rect x="1049.2" y="1715.1" width="5" height="5" fill="#000"/>
<rect x="1061.2" y="1715.1" width="5" height="5" fill="#000"/>
<rect x="1073.2" y="1715.1" width="5" height="5" fill="#000"/>
<rect x="1085.8" y="1715.1" width="5" height="5" fill="#000"/>
<rect x="1098.4" y="1715.1" width="5" height="5" fill="#000"/>
<rect x="1111.4" y="1715.1" width="5" height="5" fill="#000"/>
<rect x="1124.3" y="1710.2" width="5" height="5" fill="#000"/>
<rect x="1138.5" y="1702.1" width="5" height="5" fill="#000"/>
<rect x="1153.1" y="1657.8" width="5" height="5" fill="#000"/>
<rect x="1167.8" y="1591.5" width="5" height="5" fill="#000"/>
<rect x="1182.5" y="1513.4" width="5" height="5" fill="#000"/>
<rect x="1197.7" y="1403.1" width="5" height="5" fill="#000"/>
<rect x="1213.1" y="1315.5" width="5" height="5" fill="#000"/>
<rect x="1230.5" y="1258.6" width="5" height="5" fill="#000"/>
<rect x="1247.8" y="1262.8" width="5" height="5" fill="#000"/>
<rect x="1265.7" y="1318.8" width="5" height="5" fill="#000"/>
<rect x="1284.3" y="1409.2" width="5" height="5" fill="#000"/>
<rect x="1303.3" y="1535.5" width="5" height="5" fill="#000"/>
<rect x="1324.3" y="1615.9" width="5" height="5" fill="#000"/>
<rect x="1345.1" y="1675.1" width="5" height="5" fill="#000"/>
<rect x="1369.1" y="1711.8" width="5" height="5" fill="#000"/>
<rect x="1393.1" y="1715.1" width="5" height="5" fill="#000"/>
<rect x="1420.3" y="1715.1" width="5" height="5" fill="#000"/>
<rect x="1448.6" y="1715.1" width="5" height="5" fill="#000"/>
<rect x="1481.1" y="1715.1" width="5" height="5" fill="#000"/>
<rect x="854.8" y="1714.2" width="5" height="5" fill="#000"/>
<rect x="864.8" y="1712.4" width="5" height="5" fill="#000"/>
<rect x="873.4" y="1707" width="5" height="5" fill="#000"/>
<rect x="882.8" y="1704.7" width="5" height="5" fill="#000"/>
<rect x="891.4" y="1701.9" width="5" height="5" fill="#000"/>
<rect x="901" y="1700.1" width="5" height="5" fill="#000"/>
<rect x="910.8" y="1699" width="5" height="5" fill="#000"/>
<rect x="920.8" y="1698.1" width="5" height="5" fill="#000"/>
<rect x="930.4" y="1697.6" width="5" height="5" fill="#000"/>
<rect x="939.8" y="1697.2" width="5" height="5" fill="#000"/>
<rect x="950.8" y="1697.2" width="5" height="5" fill="#000"/>
<rect x="961.2" y="1697.2" width="5" height="5" fill="#000"/>
<rect x="970.8" y="1697.2" width="5" height="5" fill="#000"/>
<rect x="981.4" y="1698.1" width="5" height="5" fill="#000"/>
<rect x="992.2" y="1699.7" width="5" height="5" fill="#000"/>
<rect x="1002.8" y="1702.6" width="5" height="5" fill="#000"/>
<rect x="1014.2" y="1707" width="5" height="5" fill="#000"/>
<rect x="1025.4" y="1712.8" width="5" height="5" fill="#000"/>
<rect x="1037.2" y="1714.7" width="5" height="5" fill="#000"/>
<rect x="1049.2" y="1715.1" width="5" height="5" fill="#000"/>
<rect x="1061.2" y="1715.1" width="5" height="5" fill="#000"/>
<rect x="1073.2" y="1715.1" width="5" height="5" fill="#000"/>
<rect x="1085.8" y="1715.1" width="5" height="5" fill="#000"/>
<rect x="1098.4" y="1715.1" width="5" height="5" fill="#000"/>
<rect x="1111.4" y="1715.1" width="5" height="5" fill="#000"/>
<rect x="1124.3" y="1708.6" width="5" height="5" fill="#000"/>
<rect x="1138.5" y="1699.2" width="5" height="5" fill="#000"/>
<rect x="1153.1" y="1650" width="5" height="5" fill="#000"/>
<rect x="1167.8" y="1582" width="5" height="5" fill="#000"/>
<rect x="1182.5" y="1502" width="5" height="5" fill="#000"/>
<rect x="1197.7" y="1438.2" width="5" height="5" fill="#000"/>
<rect x="1213.1" y="1372.8" width="5" height="5" fill="#000"/>
<rect x="1230.5" y="1315.2" width="5" height="5" fill="#000"/>
<rect x="1247.8" y="1291.5" width="5" height="5" fill="#000"/>
<rect x="1265.7" y="1337.7" width="5" height="5" fill="#000"/>
<rect x="1284.3" y="1399.2" width="5" height="5" fill="#000"/>
<rect x="1303.3" y="1495.1" width="5" height="5" fill="#000"/>
<rect x="1324.3" y="1591.5" width="5" height="5" fill="#000"/>
<rect x="1345.1" y="1654.3" width="5" height="5" fill="#000"/>
<rect x="1369.1" y="1699.2" width="5" height="5" fill="#000"/>
<rect x="1393.1" y="1714.4" width="5" height="5" fill="#000"/>
<rect x="1420.3" y="1715.1" width="5" height="5" fill="#000"/>
<rect x="1448.6" y="1715.1" width="5" height="5" fill="#000"/>
<rect x="1481.1" y="1715.1" width="5" height="5" fill="#000"/>
<rect x="854.8" y="1714.3" width="5" height="5" fill="#000"/>
<rect x="864.8" y="1712.6" width="5" height="5" fill="#000"/>
<rect x="873.4" y="1707.5" width="5" height="5" fill="#000"/>
<rect x="882.8" y="1705.3" width="5" height="5" fill="#000"/>
<rect x="891.4" y="1702.6" width="5" height="5" fill="#000"/>
<rect x="901" y="1700.9" width="5" height="5" fill="#000"/>
<rect x="910.8" y="1699.9" width="5" height="5" fill="#000"/>
<rect x="920.8" y="1699" width="5" height="5" fill="#000"/>
<rect x="930.4" y="1698.5" width="5" height="5" fill="#000"/>
<rect x="939.8" y="1698.2" width="5" height="5" fill="#000"/>
<rect x="950.8" y="1698.2" width="5" height="5" fill="#000"/>
<rect x="961.2" y="1698.2" width="5" height="5" fill="#000"/>
<rect x="970.8" y="1698.2" width="5" height="5" fill="#000"/>
<rect x="981.4" y="1699" width="5" height="5" fill="#000"/>
<rect x="992.2" y="1700.5" width="5" height="5" fill="#000"/>
<rect x="1002.8" y="1703.3" width="5" height="5" fill="#000"/>
<rect x="1014.2" y="1707.5" width="5" height="5" fill="#000"/>
<rect x="1025.4" y="1712.9" width="5" height="5" fill="#000"/>
<rect x="1037.2" y="1714.8" width="5" height="5" fill="#000"/>
<rect x="1049.2" y="1715.1" width="5" height="5" fill="#000"/>
<rect x="1061.2" y="1715.1" width="5" height="5" fill="#000"/>
<rect x="1073.2" y="1715.1" width="5" height="5" fill="#000"/>
<rect x="1085.8" y="1715.1" width="5" height="5" fill="#000"/>
<rect x="1098.4" y="1715.1" width="5" height="5" fill="#000"/>
<rect x="1111.4" y="1715.1" width="5" height="5" fill="#000"/>
<rect x="1124.3" y="1715.1" width="5" height="5" fill="#000"/>
<rect x="1138.5" y="1713.5" width="5" height="5" fill="#000"/>
<rect x="1153.1" y="1709.2" width="5" height="5" fill="#000"/>
<rect x="1167.8" y="1693.6" width="5" height="5" fill="#000"/>
<rect x="1182.5" y="1650.7" width="5" height="5" fill="#000"/>
<rect x="1197.7" y="1601.2" width="5" height="5" fill="#000"/>
<rect x="1213.1" y="1524.1" width="5" height="5" fill="#000"/>
<rect x="1230.5" y="1437.6" width="5" height="5" fill="#000"/>
<rect x="1247.8" y="1367.9" width="5" height="5" fill="#000"/>
<rect x="1265.7" y="1318.5" width="5" height="5" fill="#000"/>
<rect x="1284.3" y="1313.3" width="5" height="5" fill="#000"/>
<rect x="1303.3" y="1350" width="5" height="5" fill="#000"/>
<rect x="1324.3" y="1410.9" width="5" height="5" fill="#000"/>
<rect x="1345.1" y="1480.5" width="5" height="5" fill="#000"/>
<rect x="1369.1" y="1555.3" width="5" height="5" fill="#000"/>
<rect x="1393.1" y="1624.3" width="5" height="5" fill="#000"/>
<rect x="1420.3" y="1676.1" width="5" height="5" fill="#000"/>
<rect x="1448.6" y="1706.6" width="5" height="5" fill="#000"/>
<rect x="1481.1" y="1714.4" width="5" height="5" fill="#000"/>
<rect x="854.8" y="1714.1" width="5" height="5" fill="#000"/>
<rect x="864.8" y="1711.8" width="5" height="5" fill="#000"/>
<rect x="873.4" y="1710.2" width="5" height="5" fill="#000"/>
<rect x="882.8" y="1709.6" width="5" height="5" fill="#000"/>
<rect x="891.4" y="1709.6" width="5" height="5" fill="#000"/>
<rect x="901" y="1709.6" width="5" height="5" fill="#000"/>
<rect x="910.8" y="1709.6" width="5" height="5" fill="#000"/>
<rect x="920.8" y="1709.6" width="5" height="5" fill="#000"/>
<rect x="930.4" y="1709.6" width="5" height="5" fill="#000"/>
<rect x="939.8" y="1709.6" width="5" height="5" fill="#000"/>
<rect x="950.8" y="1709.6" width="5" height="5" fill="#000"/>
<rect x="961.2" y="1709.6" width="5" height="5" fill="#000"/>
<rect x="970.8" y="1709.6" width="5" height="5" fill="#000"/>
<rect x="981.4" y="1709.6" width="5" height="5" fill="#000"/>
<rect x="992.2" y="1709.6" width="5" height="5" fill="#000"/>
<rect x="1002.8" y="1709.6" width="5" height="5" fill="#000"/>
<rect x="1014.2" y="1710.2" width="5" height="5" fill="#000"/>
<rect x="1025.4" y="1713.5" width="5" height="5" fill="#000"/>
<rect x="1037.2" y="1715.1" width="5" height="5" fill="#000"/>
<rect x="1049.2" y="1715.1" width="5" height="5" fill="#000"/>
<rect x="1061.2" y="1715.1" width="5" height="5" fill="#000"/>
<rect x="1073.2" y="1715.1" width="5" height="5" fill="#000"/>
<rect x="1085.8" y="1715.1" width="5" height="5" fill="#000"/>
<rect x="1098.4" y="1715.1" width="5" height="5" fill="#000"/>
<rect x="1111.4" y="1715.1" width="5" height="5" fill="#000"/>
<rect x="1124.3" y="1706.3" width="5" height="5" fill="#000"/>
<rect x="1138.5" y="1680.6" width="5" height="5" fill="#000"/>
<rect x="1153.1" y="1643.5" width="5" height="5" fill="#000"/>
<rect x="1167.8" y="1591.5" width="5" height="5" fill="#000"/>
<rect x="1182.5" y="1528.3" width="5" height="5" fill="#000"/>
<rect x="1197.7" y="1457.4" width="5" height="5" fill="#000"/>
<rect x="1213.1" y="1392" width="5" height="5" fill="#000"/>
<rect x="1230.5" y="1341.6" width="5" height="5" fill="#000"/>
<rect x="1247.8" y="1320.7" width="5" height="5" fill="#000"/>
<rect x="1265.7" y="1336" width="5" height="5" fill="#000"/>
<rect x="1284.3" y="1386.5" width="5" height="5" fill="#000"/>
<rect x="1303.3" y="1445" width="5" height="5" fill="#000"/>
<rect x="1324.3" y="1513.4" width="5" height="5" fill="#000"/>
<rect x="1345.1" y="1579.7" width="5" height="5" fill="#000"/>
<rect x="1369.1" y="1646.8" width="5" height="5" fill="#000"/>
<rect x="1393.1" y="1695.9" width="5" height="5" fill="#000"/>
<rect x="1420.3" y="1712.8" width="5" height="5" fill="#000"/>
<rect x="1448.6" y="1715.1" width="5" height="5" fill="#000"/>
<rect x="1481.1" y="1715.1" width="5" height="5" fill="#000"/>
<path d="M814.3 1197H1486.6V1749.9H814.3Z" fill="none" stroke="#000" stroke-width="2.5"/>
<path d="M803.3 1717.6H814.3M803.3 1652.5H814.3M803.3 1587.4H814.3M803.3 1522.4H814.3M803.3 1457.3H814.3M803.3 1392.2H814.3M803.3 1327.2H814.3M803.3 1262.1H814.3M803.3 1197H814.3M814.3 1749.9V1761.4M884.8 1749.9V1761.4M942.7 1749.9V1761.4M1005.5 1749.9V1761.4M1100 1749.9V1761.4M1184.2 1749.9V1761.4M1286.7 1749.9V1761.4M1360 1749.9V1761.4M1481.3 1749.9V1761.4" fill="none" stroke="#000" stroke-width="2.5"/>
<text x="814.3" y="1800.5" font-family="'Liberation Serif', serif" font-size="29" text-anchor="middle" fill="#000">.2</text>
<text x="884.8" y="1800.5" font-family="'Liberation Serif', serif" font-size="29" text-anchor="middle" fill="#000">.5</text>
<text x="942.7" y="1800.5" font-family="'Liberation Serif', serif" font-size="29" text-anchor="middle" fill="#000">1</text>
<text x="1005.5" y="1800.5" font-family="'Liberation Serif', serif" font-size="29" text-anchor="middle" fill="#000">2</text>
<text x="1100" y="1800.5" font-family="'Liberation Serif', serif" font-size="29" text-anchor="middle" fill="#000">5</text>
<text x="1184.2" y="1800.5" font-family="'Liberation Serif', serif" font-size="29" text-anchor="middle" fill="#000">10</text>
<text x="1286.7" y="1800.5" font-family="'Liberation Serif', serif" font-size="29" text-anchor="middle" fill="#000">20</text>
<text x="1360" y="1800.5" font-family="'Liberation Serif', serif" font-size="29" text-anchor="middle" fill="#000">30</text>
<text x="1481.3" y="1800.5" font-family="'Liberation Serif', serif" font-size="29" text-anchor="middle" fill="#000">50</text>
<text x="1423.8" y="1241.3" font-family="'Liberation Sans', sans-serif" font-size="28" fill="#000">F</text>
<path d="M129 85.3H194.4" stroke="#000000" stroke-width="2.4"/>
<circle cx="162" cy="85.3" r="3.4" fill="#800000"/>
<text x="231" y="93.6" font-family="'Liberation Sans', sans-serif" font-size="27" fill="#000">0</text>
<text x="277.8" y="93.6" font-family="'Liberation Sans', sans-serif" font-size="27" fill="#000">N</text>
<path d="M129 120.7H194.4" stroke="#ee1010" stroke-width="2.4"/>
<circle cx="162" cy="120.7" r="3.4" fill="#ff8000"/>
<text x="208.3" y="130.1" font-family="'Liberation Sans', sans-serif" font-size="27" fill="#000">360</text>
<text x="285.8" y="130.1" font-family="'Liberation Sans', sans-serif" font-size="27" fill="#000">N</text>
<path d="M129 156.7H194.4" stroke="#18e818" stroke-width="2.4"/>
<circle cx="162" cy="156.7" r="3.4" fill="#c4b800"/>
<text x="208.3" y="165.3" font-family="'Liberation Sans', sans-serif" font-size="27" fill="#000">450</text>
<text x="285.8" y="165.3" font-family="'Liberation Sans', sans-serif" font-size="27" fill="#000">N</text>
<path d="M129 191.7H194.4" stroke="#f4f018" stroke-width="2.4"/>
<circle cx="162" cy="191.7" r="3.4" fill="#008000"/>
<text x="208.3" y="199.7" font-family="'Liberation Sans', sans-serif" font-size="27" fill="#000">540</text>
<text x="285.8" y="199.7" font-family="'Liberation Sans', sans-serif" font-size="27" fill="#000">N</text>
<text x="615.8" y="1840.8" font-family="'Liberation Sans', sans-serif" font-size="26.5" textLength="64" lengthAdjust="spacingAndGlyphs" fill="#000">Diam</text>
<text x="682" y="1840.8" font-family="'Liberation Sans', sans-serif" font-size="26.5" textLength="328.5" lengthAdjust="spacingAndGlyphs" fill="#000">eter of starch granule (µm)</text>
<text transform="translate(27.3 955.6) rotate(-90)" x="0" y="0" font-family="'Liberation Serif', serif" font-size="28" textLength="173" lengthAdjust="spacingAndGlyphs" fill="#000">Percentage (%)</text>
</svg></body></html>
